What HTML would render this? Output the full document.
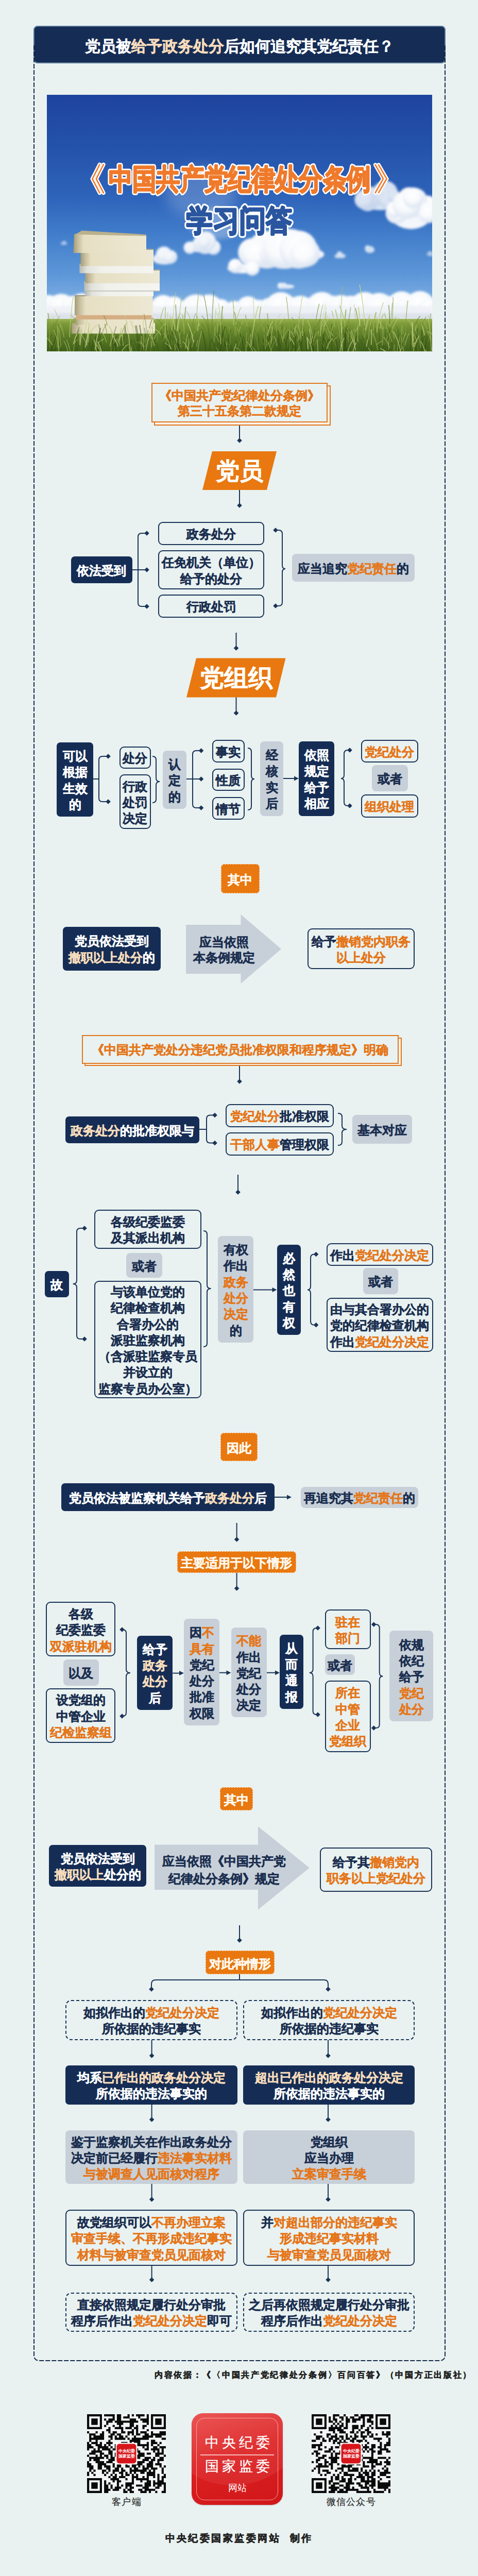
<!DOCTYPE html>
<html><head><meta charset="utf-8"><style>
*{margin:0;padding:0}
html,body{width:928px;height:5008px;overflow:hidden;background:#e9f2f1}
body{position:relative;font-family:"Liberation Sans",sans-serif;font-weight:bold;color:#1c2f50;-webkit-text-stroke:0.55px currentColor}
.b{position:absolute;display:flex;align-items:center;justify-content:center;text-align:center;box-sizing:border-box;font-size:24px;line-height:31.3px;white-space:nowrap}
.b>div{position:relative;top:1.5px}
.nv{background:#152d55;color:#fff;border-radius:7px}
.gr{background:#c7d0d8;color:#1c2f50;border-radius:8px}
.ol{border:2px solid #1b3457;border-radius:9px;color:#1c2f50}
.dl{border:2px dashed #1b3457;border-radius:11px;color:#1c2f50}
.tag{background:#e8780f;color:#fff8ee;border-radius:7px;outline:1.5px dashed #fbd3ac;outline-offset:-1.5px}
.tag>div{top:2.5px}
.o{color:#e5761a}
.p{color:#f6dcbc}
.hdr{position:absolute;left:65px;top:50px;width:800px;height:73px;box-sizing:border-box;background:#152d55;border:2px solid #5a7898;border-radius:8px;color:#fff;font-size:29.7px;line-height:76px;text-align:center}
.ob{border:2px solid #e0781e;background:#e9f2f1;color:#e5761a;line-height:30px;font-size:24px}
.ob2{position:absolute;border:2px solid #e0781e;background:#fbf3ea;box-sizing:border-box}
.big{position:absolute;display:flex;align-items:center;justify-content:center;color:#fff;font-size:46px;line-height:1}
svg.ov{position:absolute;left:0;top:0}
.ln{fill:none;stroke:#1b3457;stroke-width:2}
.src{position:absolute;left:300px;top:4598px;font-family:"Liberation Serif",serif;font-size:15.5px;letter-spacing:2.7px;line-height:24px;color:#222;white-space:nowrap}
.qr{position:absolute}
.qrl{position:absolute;top:4844px;text-align:center;font-size:17.5px;line-height:24px;color:#333;letter-spacing:1.3px;text-indent:1.3px;font-weight:normal;-webkit-text-stroke:0.3px currentColor}
.made{position:absolute;left:0;width:928px;top:4914px;text-align:center;font-size:19px;letter-spacing:3.45px;line-height:26px;color:#222}
.logo{-webkit-text-stroke:0;position:absolute;left:372px;top:4684px;width:177px;height:178px;border-radius:22px;background:linear-gradient(160deg,#e8403f 0%,#dc1f20 45%,#d0171a 100%);overflow:hidden;box-shadow:0 1px 2px rgba(0,0,0,.2)}
.gloss{position:absolute;left:-70px;top:-150px;width:300px;height:290px;border-radius:50%;background:linear-gradient(180deg,rgba(255,255,255,.16),rgba(255,255,255,.06))}
.lgin{position:absolute;left:9px;top:9px;right:9px;bottom:9px;border:1.5px solid rgba(255,200,200,.75);border-radius:16px}
.lgt1,.lgt2{-webkit-text-stroke:0.35px #fff;position:absolute;left:0;width:177px;text-align:center;font-family:"Liberation Serif",serif;font-weight:normal;color:#fff;font-size:27px;letter-spacing:6px;text-indent:6px;line-height:32px}
.lgt1{top:41px}
.lgt2{top:87px}
.lgline{position:absolute;left:17px;right:17px;top:80px;height:1.5px;background:rgba(255,220,220,.8)}
.lgt3{position:absolute;left:0;width:177px;top:133px;text-align:center;font-weight:normal;color:#fff;font-size:18px;line-height:24px}
</style></head>
<body>
<svg style="position:absolute;left:91px;top:184px" width="748" height="498" viewBox="0 0 748 498">
<defs>
<linearGradient id="sky" x1="0" y1="0" x2="0" y2="1">
<stop offset="0" stop-color="#1e449e"/>
<stop offset="0.2" stop-color="#2452aa"/>
<stop offset="0.4" stop-color="#2e64ba"/>
<stop offset="0.55" stop-color="#427ecb"/>
<stop offset="0.7" stop-color="#5d97d8"/>
<stop offset="0.8" stop-color="#7aace2"/>
</linearGradient>
<linearGradient id="grass" x1="0" y1="0" x2="0" y2="1">
<stop offset="0" stop-color="#9cb254"/>
<stop offset="0.15" stop-color="#7c9a38"/>
<stop offset="0.5" stop-color="#5d7d28"/>
<stop offset="1" stop-color="#40601a"/>
</linearGradient>
<filter id="blur6" x="-20%" y="-20%" width="140%" height="140%"><feGaussianBlur stdDeviation="5"/></filter>
<filter id="blur2" x="-20%" y="-20%" width="140%" height="140%"><feGaussianBlur stdDeviation="1.6"/></filter>
<filter id="cb" x="-30%" y="-30%" width="160%" height="160%"><feGaussianBlur stdDeviation="2.2"/></filter>
<filter id="cb2" x="-30%" y="-30%" width="160%" height="160%"><feGaussianBlur stdDeviation="4"/></filter>
<radialGradient id="puff" cx="0.45" cy="0.35" r="0.6"><stop offset="0" stop-color="#ffffff"/><stop offset="0.6" stop-color="#f7f9fc"/><stop offset="1" stop-color="#dfe7f3"/></radialGradient>
<filter id="blur12" x="-30%" y="-30%" width="160%" height="160%"><feGaussianBlur stdDeviation="12"/></filter>
<linearGradient id="tOr" x1="0" y1="0" x2="0" y2="1">
<stop offset="0" stop-color="#f7903f"/>
<stop offset="1" stop-color="#eb6a1a"/>
</linearGradient>
<linearGradient id="tBl" x1="0" y1="0" x2="0" y2="1">
<stop offset="0" stop-color="#3563b3"/>
<stop offset="1" stop-color="#1f448c"/>
</linearGradient>
<linearGradient id="pg" x1="0" y1="0" x2="1" y2="0">
<stop offset="0" stop-color="#a59c78"/>
<stop offset="0.07" stop-color="#c9c1a0"/>
<stop offset="0.14" stop-color="#e6dfc3"/>
<stop offset="1" stop-color="#ede8d3"/>
</linearGradient>
<linearGradient id="wp" x1="0" y1="0" x2="1" y2="0">
<stop offset="0" stop-color="#b9b9b2"/>
<stop offset="0.1" stop-color="#e2e2dc"/>
<stop offset="0.3" stop-color="#f1f1ec"/>
<stop offset="1" stop-color="#f4f4f0"/>
</linearGradient>
</defs>
<rect width="748" height="498" fill="url(#sky)"/>
<ellipse cx="300" cy="190" rx="70" ry="50" fill="#c8d8f0" opacity="0.25" filter="url(#blur12)"/><ellipse cx="330" cy="250" rx="55" ry="30" fill="#dfe8f6" opacity="0.35" filter="url(#blur6)"/><g filter="url(#cb)" opacity="0.85"><ellipse cx="647.0" cy="205.3" rx="39.6" ry="18.6" fill="#f3f6fb"/><circle cx="623.1" cy="204.8" r="21.1" fill="url(#puff)"/><circle cx="631.0" cy="198.0" r="19.6" fill="url(#puff)"/><circle cx="656.9" cy="191.4" r="24.6" fill="url(#puff)"/><circle cx="616.2" cy="203.2" r="18.9" fill="url(#puff)"/><circle cx="664.1" cy="198.4" r="14.0" fill="url(#puff)"/><circle cx="661.5" cy="203.6" r="17.0" fill="url(#puff)"/><circle cx="673.2" cy="196.5" r="12.6" fill="url(#puff)"/></g><g filter="url(#cb)" opacity="1.0"><ellipse cx="707.0" cy="228.9" rx="41.4" ry="31.8" fill="#f3f6fb"/><circle cx="738.2" cy="216.7" r="21.2" fill="url(#puff)"/><circle cx="678.6" cy="229.4" r="21.0" fill="url(#puff)"/><circle cx="718.6" cy="216.8" r="19.5" fill="url(#puff)"/><circle cx="714.3" cy="204.8" r="24.0" fill="url(#puff)"/><circle cx="702.3" cy="215.2" r="22.2" fill="url(#puff)"/><circle cx="740.8" cy="228.6" r="20.4" fill="url(#puff)"/><circle cx="703.2" cy="200.1" r="20.7" fill="url(#puff)"/><circle cx="674.7" cy="222.9" r="16.3" fill="url(#puff)"/><circle cx="698.8" cy="213.1" r="27.7" fill="url(#puff)"/><circle cx="711.1" cy="200.0" r="20.2" fill="url(#puff)"/></g><g filter="url(#cb)" opacity="1.0"><ellipse cx="461.0" cy="309.7" rx="77.3" ry="17.4" fill="#f3f6fb"/><circle cx="427.5" cy="302.4" r="29.4" fill="url(#puff)"/><circle cx="474.3" cy="295.4" r="34.9" fill="url(#puff)"/><circle cx="398.8" cy="306.0" r="27.7" fill="url(#puff)"/><circle cx="427.1" cy="300.7" r="36.6" fill="url(#puff)"/><circle cx="504.0" cy="307.1" r="26.6" fill="url(#puff)"/><circle cx="416.4" cy="307.1" r="28.6" fill="url(#puff)"/><circle cx="464.0" cy="298.6" r="39.2" fill="url(#puff)"/><circle cx="405.3" cy="307.5" r="28.1" fill="url(#puff)"/><circle cx="435.6" cy="306.7" r="22.3" fill="url(#puff)"/><circle cx="457.5" cy="299.1" r="38.6" fill="url(#puff)"/><circle cx="488.3" cy="300.4" r="36.9" fill="url(#puff)"/><circle cx="499.4" cy="308.5" r="26.9" fill="url(#puff)"/></g><g filter="url(#cb)" opacity="1.0"><ellipse cx="379.0" cy="336.8" rx="28.5" ry="9.6" fill="#f3f6fb"/><circle cx="366.6" cy="332.9" r="10.8" fill="url(#puff)"/><circle cx="362.7" cy="334.0" r="9.8" fill="url(#puff)"/><circle cx="398.7" cy="336.7" r="14.2" fill="url(#puff)"/><circle cx="365.9" cy="332.4" r="14.1" fill="url(#puff)"/><circle cx="363.6" cy="332.6" r="10.3" fill="url(#puff)"/></g><g filter="url(#cb)" opacity="0.95"><ellipse cx="301.0" cy="294.0" rx="30.4" ry="12.0" fill="#f3f6fb"/><circle cx="307.2" cy="290.2" r="18.9" fill="url(#puff)"/><circle cx="323.2" cy="296.1" r="14.3" fill="url(#puff)"/><circle cx="277.4" cy="296.7" r="12.0" fill="url(#puff)"/><circle cx="308.5" cy="285.2" r="19.9" fill="url(#puff)"/><circle cx="299.4" cy="286.8" r="15.2" fill="url(#puff)"/><circle cx="304.7" cy="284.9" r="12.5" fill="url(#puff)"/></g><g filter="url(#cb)" opacity="0.95"><ellipse cx="228.5" cy="318.1" rx="23.5" ry="11.1" fill="#f3f6fb"/><circle cx="239.9" cy="314.7" r="13.2" fill="url(#puff)"/><circle cx="219.3" cy="315.2" r="8.4" fill="url(#puff)"/><circle cx="227.3" cy="310.1" r="15.7" fill="url(#puff)"/><circle cx="239.0" cy="316.7" r="10.0" fill="url(#puff)"/><circle cx="237.4" cy="314.2" r="11.2" fill="url(#puff)"/></g><g filter="url(#cb)" opacity="0.9"><ellipse cx="465.0" cy="372.1" rx="15.6" ry="4.2" fill="#f3f6fb"/><circle cx="460.4" cy="370.7" r="6.0" fill="url(#puff)"/><circle cx="454.0" cy="371.2" r="6.1" fill="url(#puff)"/><circle cx="453.6" cy="370.4" r="5.9" fill="url(#puff)"/></g><g filter="url(#cb)" opacity="0.8"><ellipse cx="627.0" cy="301.0" rx="9.2" ry="6.0" fill="#f3f6fb"/><circle cx="622.8" cy="297.6" r="5.6" fill="url(#puff)"/><circle cx="630.1" cy="297.5" r="3.6" fill="url(#puff)"/></g><g filter="url(#cb)" opacity="0.8"><ellipse cx="569.0" cy="313.4" rx="11.0" ry="3.9" fill="#f3f6fb"/><circle cx="568.3" cy="310.1" r="6.0" fill="url(#puff)"/><circle cx="575.7" cy="312.7" r="3.6" fill="url(#puff)"/></g><g filter="url(#cb)" opacity="0.6"><ellipse cx="33.0" cy="288.5" rx="6.4" ry="3.0" fill="#f3f6fb"/><circle cx="33.8" cy="286.9" r="3.5" fill="url(#puff)"/></g><g filter="url(#cb)" opacity="0.6"><ellipse cx="744.5" cy="309.1" rx="6.9" ry="4.2" fill="#f3f6fb"/><circle cx="744.0" cy="307.7" r="4.1" fill="url(#puff)"/></g><g filter="url(#cb)"><circle cx="-20.0" cy="416.9" r="18.6" fill="url(#puff)"/><circle cx="2.9" cy="412.2" r="23.7" fill="url(#puff)"/><circle cx="28.0" cy="415.1" r="28.9" fill="url(#puff)"/><circle cx="49.1" cy="410.0" r="19.8" fill="url(#puff)"/><circle cx="68.3" cy="410.7" r="25.4" fill="url(#puff)"/><circle cx="93.4" cy="412.3" r="19.7" fill="url(#puff)"/><circle cx="108.0" cy="417.4" r="32.0" fill="url(#puff)"/><circle cx="134.2" cy="410.3" r="25.9" fill="url(#puff)"/><circle cx="152.8" cy="411.2" r="24.0" fill="url(#puff)"/><circle cx="180.1" cy="411.5" r="21.9" fill="url(#puff)"/><circle cx="205.6" cy="419.3" r="18.0" fill="url(#puff)"/><circle cx="225.9" cy="413.4" r="24.8" fill="url(#puff)"/><circle cx="246.7" cy="410.4" r="19.0" fill="url(#puff)"/><circle cx="272.8" cy="417.8" r="19.8" fill="url(#puff)"/><circle cx="289.8" cy="418.9" r="31.5" fill="url(#puff)"/><circle cx="314.3" cy="415.8" r="28.2" fill="url(#puff)"/><circle cx="338.5" cy="414.8" r="18.0" fill="url(#puff)"/><circle cx="364.1" cy="419.2" r="19.2" fill="url(#puff)"/><circle cx="390.5" cy="413.7" r="22.6" fill="url(#puff)"/><circle cx="410.9" cy="419.9" r="22.2" fill="url(#puff)"/><circle cx="430.3" cy="410.9" r="16.4" fill="url(#puff)"/><circle cx="454.3" cy="415.0" r="31.9" fill="url(#puff)"/><circle cx="475.2" cy="417.5" r="24.8" fill="url(#puff)"/><circle cx="492.3" cy="415.6" r="25.7" fill="url(#puff)"/><circle cx="515.0" cy="411.7" r="18.9" fill="url(#puff)"/><circle cx="533.9" cy="413.5" r="30.8" fill="url(#puff)"/><circle cx="556.3" cy="411.0" r="20.9" fill="url(#puff)"/><circle cx="571.2" cy="417.8" r="29.0" fill="url(#puff)"/><circle cx="590.4" cy="416.8" r="26.9" fill="url(#puff)"/><circle cx="617.0" cy="414.1" r="31.3" fill="url(#puff)"/><circle cx="644.9" cy="415.9" r="31.4" fill="url(#puff)"/><circle cx="671.2" cy="413.8" r="23.9" fill="url(#puff)"/><circle cx="688.7" cy="411.6" r="30.0" fill="url(#puff)"/><circle cx="703.7" cy="417.7" r="28.9" fill="url(#puff)"/><circle cx="724.4" cy="410.5" r="29.4" fill="url(#puff)"/><circle cx="742.0" cy="414.2" r="20.6" fill="url(#puff)"/><circle cx="758.4" cy="413.4" r="17.1" fill="url(#puff)"/><rect x="0" y="410" width="748" height="28" fill="#eef2f7"/><rect x="0" y="424" width="748" height="14" fill="#d5dce6" opacity="0.7"/></g>
<!-- grass -->
<rect x="0" y="435" width="748" height="63" fill="url(#grass)"/>
<!-- books (bottom to top) -->
<g>
<path d="M48,443 L210,443 L210,463.5 L48,463.5 Z" fill="url(#pg)"/>
<path d="M54,432.6 L207,432.6 L207,446 L54,446 Z" fill="url(#pg)"/>
<path d="M56.5,425.7 L203.5,425.7 L203.5,436 L56.5,436 Z" fill="#d6ae84"/>
<path d="M54,389 L205.5,389 L205.5,427.7 L54,427.7 Z" fill="url(#pg)"/>
<path d="M54,389 L205.5,389 L205.5,391 L54,391 Z" fill="#9a9274"/>
<path d="M74.5,379.4 L207,379.4 L207,391 L74.5,391 Z" fill="url(#wp)"/>
<path d="M72.4,362 L219,362 L219,381 L72.4,381 Z" fill="url(#wp)"/>
<path d="M72.4,380 L219,380 L219,381.5 L72.4,381.5 Z" fill="#bbbbb0"/>
<path d="M74.5,339.4 L219,339.4 L219,365.7 L74.5,365.7 Z" fill="url(#pg)"/>
<path d="M74.5,339.4 L219,339.4 L219,341 L74.5,341 Z" fill="#a29a7a"/>
<path d="M63.4,327.7 L207,327.7 L207,346.3 L63.4,346.3 Z" fill="url(#wp)"/>
<path d="M65.5,299.4 L207,299.4 L207,332.6 L65.5,332.6 Z" fill="url(#pg)"/>
<path d="M65.5,299.4 L207,299.4 L207,301 L65.5,301 Z" fill="#a29a7a"/>
<path d="M53,270 L193,272 L193,307 L51.7,307 Z" fill="url(#pg)"/>
<path d="M68,263.6 L191,271 L193,274 L55,271 Z" fill="#b9b08c"/>
</g>
<g fill="none"><path d="M101.3,500 Q102.0,481.0 103.6,468.4" stroke="#2f4a12" stroke-width="1.38" opacity="0.57"/><path d="M309.1,500 Q306.5,473.1 300.5,455.2" stroke="#2f4a12" stroke-width="2.08" opacity="0.59"/><path d="M726.5,500 Q728.5,480.8 733.1,468.1" stroke="#2f4a12" stroke-width="2.18" opacity="0.33"/><path d="M51.2,500 Q54.1,474.0 61.0,456.7" stroke="#2f4a12" stroke-width="1.04" opacity="0.55"/><path d="M495.4,500 Q493.3,478.0 488.3,463.4" stroke="#2f4a12" stroke-width="1.61" opacity="0.45"/><path d="M147.7,500 Q149.1,469.1 152.5,448.5" stroke="#2f4a12" stroke-width="1.20" opacity="0.49"/><path d="M448.4,500 Q451.2,468.3 458.0,447.2" stroke="#2f4a12" stroke-width="2.07" opacity="0.32"/><path d="M314.2,500 Q315.8,484.8 319.3,474.6" stroke="#2f4a12" stroke-width="1.10" opacity="0.55"/><path d="M461.8,500 Q464.4,474.5 470.7,457.5" stroke="#2f4a12" stroke-width="2.04" opacity="0.52"/><path d="M470.9,500 Q471.0,476.5 471.3,460.9" stroke="#2f4a12" stroke-width="1.03" opacity="0.36"/><path d="M517.1,500 Q516.8,479.3 516.1,465.5" stroke="#2f4a12" stroke-width="2.02" opacity="0.42"/><path d="M546.8,500 Q548.8,471.1 553.5,451.9" stroke="#2f4a12" stroke-width="1.28" opacity="0.48"/><path d="M349.0,500 Q346.5,475.7 340.7,459.5" stroke="#2f4a12" stroke-width="1.23" opacity="0.37"/><path d="M589.4,500 Q588.7,471.6 587.1,452.6" stroke="#2f4a12" stroke-width="1.73" opacity="0.43"/><path d="M402.3,500 Q401.3,482.4 399.1,470.7" stroke="#2f4a12" stroke-width="2.15" opacity="0.57"/><path d="M86.9,500 Q89.1,485.5 94.2,475.8" stroke="#2f4a12" stroke-width="1.53" opacity="0.49"/><path d="M452.2,500 Q454.6,475.3 460.3,458.8" stroke="#2f4a12" stroke-width="1.18" opacity="0.56"/><path d="M192.1,500 Q190.8,486.4 188.0,477.3" stroke="#2f4a12" stroke-width="1.62" opacity="0.54"/><path d="M434.8,500 Q432.9,467.6 428.6,446.0" stroke="#2f4a12" stroke-width="1.46" opacity="0.47"/><path d="M442.8,500 Q442.9,473.4 443.0,455.6" stroke="#2f4a12" stroke-width="1.12" opacity="0.53"/><path d="M597.2,500 Q599.0,486.5 603.4,477.5" stroke="#2f4a12" stroke-width="1.01" opacity="0.51"/><path d="M466.9,500 Q464.4,481.8 458.7,469.6" stroke="#2f4a12" stroke-width="1.31" opacity="0.49"/><path d="M399.6,500 Q397.6,470.9 393.0,451.5" stroke="#2f4a12" stroke-width="1.74" opacity="0.39"/><path d="M27.3,500 Q25.0,484.1 19.6,473.4" stroke="#2f4a12" stroke-width="1.19" opacity="0.31"/><path d="M734.7,500 Q736.2,480.4 739.8,467.4" stroke="#2f4a12" stroke-width="1.51" opacity="0.45"/><path d="M185.8,500 Q184.0,468.2 180.0,446.9" stroke="#2f4a12" stroke-width="2.15" opacity="0.53"/><path d="M649.8,500 Q652.7,486.0 659.5,476.6" stroke="#2f4a12" stroke-width="1.78" opacity="0.47"/><path d="M425.0,500 Q427.7,478.6 434.1,464.4" stroke="#2f4a12" stroke-width="2.18" opacity="0.59"/><path d="M102.2,500 Q103.4,476.9 106.2,461.5" stroke="#2f4a12" stroke-width="1.22" opacity="0.57"/><path d="M565.2,500 Q564.0,485.5 561.1,475.8" stroke="#2f4a12" stroke-width="1.82" opacity="0.56"/><path d="M751.6,500 Q753.6,482.2 758.3,470.3" stroke="#2f4a12" stroke-width="1.70" opacity="0.41"/><path d="M177.1,500 Q174.3,485.8 167.8,476.3" stroke="#2f4a12" stroke-width="1.52" opacity="0.34"/><path d="M149.5,500 Q147.3,481.2 142.2,468.7" stroke="#2f4a12" stroke-width="1.24" opacity="0.38"/><path d="M734.4,500 Q735.1,479.1 736.7,465.2" stroke="#2f4a12" stroke-width="1.65" opacity="0.59"/><path d="M621.1,500 Q623.4,468.5 628.6,447.6" stroke="#2f4a12" stroke-width="1.89" opacity="0.56"/><path d="M246.8,500 Q245.8,475.2 243.4,458.7" stroke="#2f4a12" stroke-width="2.11" opacity="0.38"/><path d="M752.8,500 Q751.8,483.0 749.6,471.7" stroke="#2f4a12" stroke-width="1.89" opacity="0.47"/><path d="M157.6,500 Q159.9,485.3 165.2,475.6" stroke="#2f4a12" stroke-width="1.25" opacity="0.45"/><path d="M629.7,500 Q629.5,477.8 629.2,463.0" stroke="#2f4a12" stroke-width="1.20" opacity="0.58"/><path d="M451.0,500 Q450.4,474.0 448.9,456.6" stroke="#2f4a12" stroke-width="1.85" opacity="0.41"/><path d="M130.4,500 Q132.0,480.5 135.7,467.5" stroke="#2f4a12" stroke-width="2.04" opacity="0.45"/><path d="M495.0,500 Q495.9,468.4 498.0,447.3" stroke="#2f4a12" stroke-width="2.17" opacity="0.38"/><path d="M656.3,500 Q656.7,472.2 657.7,453.7" stroke="#2f4a12" stroke-width="1.71" opacity="0.35"/><path d="M7.7,500 Q10.1,487.3 15.5,478.9" stroke="#2f4a12" stroke-width="1.48" opacity="0.48"/><path d="M330.5,500 Q331.9,469.5 335.2,449.2" stroke="#2f4a12" stroke-width="1.45" opacity="0.49"/><path d="M157.4,500 Q155.4,468.2 150.6,447.0" stroke="#2f4a12" stroke-width="2.09" opacity="0.46"/><path d="M106.8,500 Q105.0,467.3 100.8,445.6" stroke="#2f4a12" stroke-width="1.81" opacity="0.38"/><path d="M96.5,500 Q98.8,471.4 104.3,452.3" stroke="#2f4a12" stroke-width="2.07" opacity="0.50"/><path d="M482.0,500 Q485.0,484.7 491.9,474.5" stroke="#2f4a12" stroke-width="1.39" opacity="0.49"/><path d="M14.4,500 Q14.5,481.4 14.8,468.9" stroke="#2f4a12" stroke-width="1.57" opacity="0.42"/><path d="M285.1,500 Q286.0,487.6 288.0,479.3" stroke="#2f4a12" stroke-width="1.43" opacity="0.33"/><path d="M274.2,500 Q275.7,473.9 279.1,456.6" stroke="#2f4a12" stroke-width="1.50" opacity="0.33"/><path d="M469.5,500 Q469.4,475.4 469.2,459.0" stroke="#2f4a12" stroke-width="2.16" opacity="0.41"/><path d="M391.2,500 Q389.0,487.4 383.9,478.9" stroke="#2f4a12" stroke-width="1.23" opacity="0.36"/><path d="M127.3,500 Q129.8,485.7 135.7,476.2" stroke="#2f4a12" stroke-width="1.70" opacity="0.45"/><path d="M420.9,500 Q423.1,482.1 428.2,470.1" stroke="#2f4a12" stroke-width="1.88" opacity="0.43"/><path d="M11.7,500 Q8.9,488.0 2.4,480.0" stroke="#2f4a12" stroke-width="1.87" opacity="0.31"/><path d="M335.8,500 Q335.0,477.1 333.2,461.9" stroke="#2f4a12" stroke-width="1.36" opacity="0.58"/><path d="M718.3,500 Q718.6,472.1 719.1,453.6" stroke="#2f4a12" stroke-width="2.14" opacity="0.51"/><path d="M170.2,500 Q168.0,485.1 163.1,475.1" stroke="#2f4a12" stroke-width="1.12" opacity="0.42"/><path d="M455.7,500 Q453.2,483.6 447.3,472.7" stroke="#2f4a12" stroke-width="1.40" opacity="0.44"/><path d="M661.7,500 Q663.6,469.3 668.1,448.8" stroke="#2f4a12" stroke-width="1.31" opacity="0.55"/><path d="M207.9,500 Q208.1,475.7 208.5,459.5" stroke="#2f4a12" stroke-width="1.28" opacity="0.46"/><path d="M194.5,500 Q192.9,471.3 189.2,452.1" stroke="#2f4a12" stroke-width="1.94" opacity="0.36"/><path d="M1.6,500 Q3.9,478.8 9.2,464.6" stroke="#2f4a12" stroke-width="1.76" opacity="0.38"/><path d="M378.3,500 Q379.3,481.0 381.6,468.4" stroke="#2f4a12" stroke-width="1.35" opacity="0.35"/><path d="M752.3,500 Q750.1,487.2 745.0,478.6" stroke="#2f4a12" stroke-width="1.38" opacity="0.40"/><path d="M414.9,500 Q412.8,477.6 408.0,462.7" stroke="#2f4a12" stroke-width="2.00" opacity="0.51"/><path d="M133.3,500 Q131.0,484.4 125.6,474.1" stroke="#2f4a12" stroke-width="1.61" opacity="0.49"/><path d="M540.7,500 Q542.8,483.0 548.0,471.7" stroke="#2f4a12" stroke-width="2.08" opacity="0.44"/><path d="M85.9,500 Q87.2,484.3 90.2,473.9" stroke="#2f4a12" stroke-width="1.08" opacity="0.49"/><path d="M538.0,500 Q535.9,487.6 531.0,479.3" stroke="#2f4a12" stroke-width="1.29" opacity="0.43"/><path d="M639.7,500 Q639.0,471.2 637.4,452.0" stroke="#2f4a12" stroke-width="1.01" opacity="0.46"/><path d="M142.9,500 Q145.5,481.9 151.6,469.9" stroke="#2f4a12" stroke-width="1.35" opacity="0.42"/><path d="M504.6,500 Q501.9,468.4 495.8,447.4" stroke="#2f4a12" stroke-width="1.71" opacity="0.50"/><path d="M90.6,500 Q89.6,485.9 87.3,476.4" stroke="#2f4a12" stroke-width="1.41" opacity="0.51"/><path d="M729.2,500 Q728.7,474.1 727.8,456.8" stroke="#2f4a12" stroke-width="2.20" opacity="0.58"/><path d="M328.5,500 Q328.6,478.1 328.8,463.5" stroke="#2f4a12" stroke-width="1.13" opacity="0.49"/><path d="M535.0,500 Q535.6,478.0 536.7,463.4" stroke="#2f4a12" stroke-width="2.09" opacity="0.49"/><path d="M517.2,500 Q518.6,469.5 521.9,449.1" stroke="#2f4a12" stroke-width="1.55" opacity="0.59"/><path d="M712.3,500 Q715.3,486.3 722.3,477.2" stroke="#2f4a12" stroke-width="1.20" opacity="0.56"/><path d="M481.8,500 Q480.9,471.6 478.7,452.7" stroke="#2f4a12" stroke-width="1.34" opacity="0.35"/><path d="M87.1,500 Q85.1,485.6 80.5,476.0" stroke="#2f4a12" stroke-width="1.98" opacity="0.46"/><path d="M645.8,500 Q645.4,467.3 644.6,445.5" stroke="#2f4a12" stroke-width="1.21" opacity="0.57"/><path d="M80.6,500 Q82.7,477.2 87.5,462.0" stroke="#2f4a12" stroke-width="1.15" opacity="0.38"/><path d="M488.8,500 Q491.0,486.0 496.1,476.6" stroke="#2f4a12" stroke-width="1.90" opacity="0.47"/><path d="M584.4,500 Q586.5,485.1 591.3,475.1" stroke="#2f4a12" stroke-width="1.65" opacity="0.42"/><path d="M612.1,500 Q609.4,478.4 603.0,464.0" stroke="#2f4a12" stroke-width="1.84" opacity="0.31"/><path d="M421.5,500 Q421.0,483.4 419.7,472.4" stroke="#2f4a12" stroke-width="1.50" opacity="0.51"/><path d="M478.4,500 Q476.8,480.6 473.0,467.7" stroke="#2f4a12" stroke-width="1.93" opacity="0.32"/><path d="M437.4,500 Q438.2,472.7 440.0,454.6" stroke="#2f4a12" stroke-width="1.03" opacity="0.32"/><path d="M481.9,500 Q482.7,471.5 484.6,452.5" stroke="#2f4a12" stroke-width="2.18" opacity="0.51"/><path d="M317.9,500 Q316.4,467.9 312.7,446.5" stroke="#2f4a12" stroke-width="1.13" opacity="0.42"/><path d="M16.2,500 Q16.4,476.1 16.9,460.1" stroke="#2f4a12" stroke-width="1.23" opacity="0.48"/><path d="M350.8,500 Q352.5,473.3 356.6,455.5" stroke="#2f4a12" stroke-width="1.96" opacity="0.51"/><path d="M70.5,500 Q71.5,475.9 73.8,459.9" stroke="#2f4a12" stroke-width="1.23" opacity="0.41"/><path d="M390.0,500 Q387.5,482.3 381.6,470.5" stroke="#2f4a12" stroke-width="1.34" opacity="0.42"/><path d="M581.2,500 Q583.3,467.3 588.1,445.5" stroke="#2f4a12" stroke-width="2.07" opacity="0.59"/><path d="M383.1,500 Q380.3,475.0 373.7,458.3" stroke="#2f4a12" stroke-width="1.86" opacity="0.55"/><path d="M257.0,500 Q254.6,475.2 248.9,458.7" stroke="#2f4a12" stroke-width="2.12" opacity="0.43"/><path d="M342.5,500 Q344.7,483.3 349.9,472.2" stroke="#2f4a12" stroke-width="2.14" opacity="0.42"/><path d="M391.5,500 Q392.7,482.0 395.5,470.0" stroke="#2f4a12" stroke-width="1.74" opacity="0.55"/><path d="M8.4,500 Q11.2,477.4 17.8,462.4" stroke="#2f4a12" stroke-width="1.03" opacity="0.49"/><path d="M280.1,500 Q278.9,485.6 276.1,475.9" stroke="#2f4a12" stroke-width="2.16" opacity="0.36"/><path d="M354.8,500 Q352.5,469.8 347.0,449.7" stroke="#2f4a12" stroke-width="1.03" opacity="0.48"/><path d="M467.7,500 Q469.7,487.2 474.4,478.7" stroke="#2f4a12" stroke-width="1.92" opacity="0.48"/><path d="M179.2,500 Q177.5,468.6 173.6,447.7" stroke="#2f4a12" stroke-width="2.20" opacity="0.47"/><path d="M683.9,500 Q684.6,476.5 686.0,460.9" stroke="#2f4a12" stroke-width="2.13" opacity="0.43"/><path d="M232.4,500 Q235.3,467.7 242.3,446.1" stroke="#2f4a12" stroke-width="1.15" opacity="0.56"/><path d="M571.8,500 Q570.2,483.6 566.5,472.6" stroke="#2f4a12" stroke-width="1.07" opacity="0.55"/><path d="M56.4,500 Q58.2,470.4 62.4,450.7" stroke="#2f4a12" stroke-width="2.18" opacity="0.33"/><path d="M609.3,500 Q606.9,486.3 601.5,477.1" stroke="#2f4a12" stroke-width="2.02" opacity="0.34"/><path d="M553.4,500 Q553.3,467.3 553.0,445.5" stroke="#2f4a12" stroke-width="1.51" opacity="0.57"/><path d="M477.6,500 Q478.7,467.3 481.4,445.5" stroke="#2f4a12" stroke-width="1.54" opacity="0.31"/><path d="M671.6,500 Q669.4,472.2 664.3,453.6" stroke="#2f4a12" stroke-width="1.83" opacity="0.38"/><path d="M328.4,500 Q325.9,484.7 320.0,474.5" stroke="#2f4a12" stroke-width="1.56" opacity="0.51"/><path d="M533.9,500 Q536.4,470.1 542.1,450.2" stroke="#2f4a12" stroke-width="1.89" opacity="0.37"/><path d="M582.3,500 Q580.0,472.6 574.6,454.3" stroke="#2f4a12" stroke-width="1.02" opacity="0.57"/><path d="M125.4,500 Q128.1,469.7 134.4,449.5" stroke="#2f4a12" stroke-width="1.50" opacity="0.46"/><path d="M50.3,500 Q52.4,486.4 57.3,477.3" stroke="#2f4a12" stroke-width="1.75" opacity="0.38"/><path d="M140.4,500 Q142.0,486.4 145.7,477.3" stroke="#2f4a12" stroke-width="1.33" opacity="0.32"/><path d="M619.1,500 Q617.1,481.4 612.5,469.0" stroke="#2f4a12" stroke-width="1.68" opacity="0.41"/><path d="M393.3,500 Q393.6,478.4 394.2,464.0" stroke="#2f4a12" stroke-width="1.32" opacity="0.45"/><path d="M719.7,500 Q719.2,483.6 718.1,472.6" stroke="#2f4a12" stroke-width="1.55" opacity="0.44"/><path d="M254.6,500 Q257.2,474.8 263.3,458.0" stroke="#2f4a12" stroke-width="1.18" opacity="0.43"/><path d="M737.9,500 Q739.0,488.0 741.7,480.0" stroke="#2f4a12" stroke-width="1.44" opacity="0.45"/><path d="M545.8,500 Q543.2,482.6 537.1,471.0" stroke="#2f4a12" stroke-width="1.77" opacity="0.60"/><path d="M339.9,500 Q340.0,468.4 340.2,447.3" stroke="#2f4a12" stroke-width="1.82" opacity="0.50"/><path d="M576.4,500 Q577.5,474.3 580.1,457.2" stroke="#2f4a12" stroke-width="1.85" opacity="0.38"/><path d="M664.2,500 Q664.2,475.2 664.2,458.7" stroke="#2f4a12" stroke-width="1.76" opacity="0.40"/><path d="M177.1,500 Q175.3,468.8 171.3,448.0" stroke="#2f4a12" stroke-width="1.43" opacity="0.48"/><path d="M371.3,500 Q369.9,486.1 366.7,476.8" stroke="#2f4a12" stroke-width="1.92" opacity="0.34"/><path d="M360.0,500 Q357.5,485.7 351.6,476.2" stroke="#2f4a12" stroke-width="2.17" opacity="0.43"/><path d="M349.5,500 Q347.5,486.5 342.7,477.4" stroke="#2f4a12" stroke-width="1.62" opacity="0.58"/><path d="M706.1,500 Q706.2,479.6 706.3,466.0" stroke="#2f4a12" stroke-width="1.27" opacity="0.55"/><path d="M99.9,500 Q98.0,481.6 93.7,469.3" stroke="#2f4a12" stroke-width="1.89" opacity="0.56"/><path d="M329.1,500 Q331.6,481.1 337.4,468.4" stroke="#2f4a12" stroke-width="1.12" opacity="0.53"/><path d="M236.1,500 Q234.6,468.9 231.2,448.2" stroke="#2f4a12" stroke-width="2.05" opacity="0.56"/><path d="M232.5,500 Q233.3,483.7 235.1,472.9" stroke="#2f4a12" stroke-width="1.09" opacity="0.47"/><path d="M228.8,500 Q226.4,474.0 220.9,456.6" stroke="#2f4a12" stroke-width="1.83" opacity="0.38"/><path d="M431.3,500 Q429.3,472.8 424.6,454.7" stroke="#2f4a12" stroke-width="1.39" opacity="0.51"/><path d="M517.2,500 Q514.4,469.3 507.8,448.8" stroke="#2f4a12" stroke-width="1.47" opacity="0.40"/><path d="M665.3,500 Q664.2,477.5 661.8,462.5" stroke="#2f4a12" stroke-width="1.19" opacity="0.43"/><path d="M252.1,500 Q252.9,487.6 254.7,479.3" stroke="#2f4a12" stroke-width="2.07" opacity="0.42"/><path d="M336.7,500 Q339.4,469.5 345.8,449.2" stroke="#2f4a12" stroke-width="2.15" opacity="0.52"/><path d="M134.0,500 Q133.1,480.4 130.8,467.3" stroke="#2f4a12" stroke-width="1.96" opacity="0.54"/><path d="M615.4,500 Q613.8,484.8 610.0,474.6" stroke="#2f4a12" stroke-width="2.19" opacity="0.40"/><path d="M445.5,500 Q446.8,479.0 449.9,465.0" stroke="#2f4a12" stroke-width="1.01" opacity="0.54"/><path d="M684.2,500 Q683.3,473.4 681.2,455.7" stroke="#2f4a12" stroke-width="1.83" opacity="0.36"/><path d="M578.6,500 Q579.2,471.2 580.5,452.0" stroke="#2f4a12" stroke-width="1.90" opacity="0.51"/><path d="M578.1,500 Q579.6,469.0 583.3,448.4" stroke="#2f4a12" stroke-width="2.09" opacity="0.51"/><path d="M58.3,500 Q60.8,483.8 66.5,473.0" stroke="#2f4a12" stroke-width="1.11" opacity="0.56"/><path d="M539.3,500 Q541.6,485.1 547.0,475.1" stroke="#2f4a12" stroke-width="1.86" opacity="0.36"/><path d="M255.4,500 Q256.1,473.7 257.9,456.2" stroke="#2f4a12" stroke-width="1.70" opacity="0.56"/><path d="M236.2,500 Q239.0,470.0 245.5,450.0" stroke="#2f4a12" stroke-width="2.02" opacity="0.43"/><path d="M180.7,500 Q180.1,477.5 178.6,462.5" stroke="#2f4a12" stroke-width="1.80" opacity="0.33"/><path d="M217.1,500 Q214.8,486.1 209.5,476.8" stroke="#2f4a12" stroke-width="1.37" opacity="0.46"/><path d="M594.7,500 Q597.0,480.1 602.4,466.9" stroke="#2f4a12" stroke-width="1.60" opacity="0.59"/><path d="M248.4,500 Q246.4,481.2 241.6,468.7" stroke="#2f4a12" stroke-width="1.95" opacity="0.48"/><path d="M714.7,500 Q716.3,477.6 720.0,462.6" stroke="#2f4a12" stroke-width="1.20" opacity="0.58"/><path d="M467.2,489.5 Q469.2,467.7 473.9,453.2" stroke="#62802a" stroke-width="0.83" opacity="0.71"/><path d="M710.1,483.9 Q709.8,457.2 709.2,439.4" stroke="#98b050" stroke-width="1.18" opacity="0.55"/><path d="M184.0,488.9 Q187.1,480.8 194.3,475.4" stroke="#86a040" stroke-width="0.96" opacity="0.86"/><path d="M100.2,482.0 Q103.3,477.2 110.6,474.0" stroke="#98b050" stroke-width="1.57" opacity="0.93"/><path d="M145.8,497.6 Q149.7,489.5 158.9,484.1" stroke="#98b050" stroke-width="1.77" opacity="0.90"/><path d="M221.5,466.7 Q217.8,459.2 209.3,454.3" stroke="#bccb7a" stroke-width="1.62" opacity="0.76"/><path d="M446.8,487.5 Q445.1,476.3 441.3,468.8" stroke="#c5d18c" stroke-width="1.12" opacity="0.72"/><path d="M529.1,448.4 Q531.2,423.9 536.1,407.5" stroke="#86a040" stroke-width="0.82" opacity="0.85"/><path d="M272.6,479.7 Q269.9,474.1 263.6,470.3" stroke="#98b050" stroke-width="0.92" opacity="0.61"/><path d="M616.2,472.7 Q614.1,451.9 609.2,438.0" stroke="#86a040" stroke-width="0.91" opacity="0.84"/><path d="M599.3,496.6 Q595.9,474.8 587.9,460.2" stroke="#bccb7a" stroke-width="1.31" opacity="0.66"/><path d="M64.8,486.2 Q65.9,467.0 68.3,454.2" stroke="#c5d18c" stroke-width="1.49" opacity="0.95"/><path d="M117.4,447.9 Q115.2,435.8 110.1,427.7" stroke="#62802a" stroke-width="1.14" opacity="0.61"/><path d="M488.4,453.7 Q491.0,414.4 496.9,388.2" stroke="#bccb7a" stroke-width="1.64" opacity="0.56"/><path d="M549.6,502.0 Q546.3,483.0 538.6,470.3" stroke="#86a040" stroke-width="1.17" opacity="0.53"/><path d="M313.8,453.5 Q311.1,414.6 304.6,388.7" stroke="#62802a" stroke-width="1.25" opacity="0.72"/><path d="M548.0,473.7 Q545.0,461.7 538.1,453.6" stroke="#86a040" stroke-width="1.62" opacity="0.74"/><path d="M131.0,501.2 Q130.9,493.2 130.8,487.8" stroke="#62802a" stroke-width="1.58" opacity="0.89"/><path d="M268.9,492.2 Q270.3,474.9 273.5,463.3" stroke="#bccb7a" stroke-width="1.16" opacity="0.82"/><path d="M207.9,474.1 Q211.6,464.1 220.4,457.3" stroke="#c5d18c" stroke-width="0.98" opacity="0.88"/><path d="M354.5,491.4 Q352.7,481.7 348.6,475.2" stroke="#62802a" stroke-width="1.45" opacity="0.86"/><path d="M258.7,483.6 Q257.4,463.9 254.5,450.8" stroke="#98b050" stroke-width="1.67" opacity="0.81"/><path d="M734.9,502.4 Q732.1,488.1 725.6,478.5" stroke="#bccb7a" stroke-width="1.74" opacity="0.71"/><path d="M519.1,488.2 Q521.5,480.3 527.0,475.0" stroke="#62802a" stroke-width="1.32" opacity="0.92"/><path d="M224.4,478.2 Q228.6,468.5 238.3,462.1" stroke="#98b050" stroke-width="0.96" opacity="0.70"/><path d="M487.8,458.1 Q483.9,442.0 475.0,431.2" stroke="#86a040" stroke-width="1.78" opacity="0.57"/><path d="M671.0,451.6 Q671.4,416.1 672.3,392.3" stroke="#86a040" stroke-width="1.27" opacity="0.67"/><path d="M458.7,480.4 Q454.5,459.4 444.8,445.3" stroke="#86a040" stroke-width="1.75" opacity="0.89"/><path d="M651.7,486.3 Q652.2,464.2 653.1,449.4" stroke="#bccb7a" stroke-width="0.89" opacity="0.75"/><path d="M252.2,479.9 Q251.6,436.2 250.0,407.1" stroke="#62802a" stroke-width="1.44" opacity="0.67"/><path d="M102.7,480.8 Q106.7,458.7 115.8,444.0" stroke="#62802a" stroke-width="0.89" opacity="0.87"/><path d="M496.5,467.9 Q496.9,446.6 497.6,432.4" stroke="#bccb7a" stroke-width="1.43" opacity="0.90"/><path d="M279.9,470.9 Q283.9,460.9 293.1,454.2" stroke="#86a040" stroke-width="1.18" opacity="0.88"/><path d="M115.5,480.6 Q113.5,470.4 108.6,463.6" stroke="#a9bd62" stroke-width="1.12" opacity="0.94"/><path d="M367.8,462.2 Q368.8,455.2 371.2,450.5" stroke="#86a040" stroke-width="1.05" opacity="0.52"/><path d="M419.7,459.6 Q419.6,454.1 419.4,450.5" stroke="#98b050" stroke-width="1.52" opacity="0.63"/><path d="M368.1,504.5 Q371.3,484.2 378.8,470.6" stroke="#a9bd62" stroke-width="0.82" opacity="0.56"/><path d="M209.0,487.5 Q205.0,469.5 195.8,457.5" stroke="#bccb7a" stroke-width="1.16" opacity="0.84"/><path d="M442.8,447.2 Q446.3,434.2 454.5,425.5" stroke="#c5d18c" stroke-width="1.35" opacity="0.51"/><path d="M585.0,470.7 Q586.1,453.1 588.7,441.4" stroke="#86a040" stroke-width="1.66" opacity="0.88"/><path d="M355.6,485.9 Q355.3,465.0 354.6,451.0" stroke="#a9bd62" stroke-width="1.10" opacity="0.50"/><path d="M585.5,479.9 Q583.9,466.6 580.2,457.8" stroke="#98b050" stroke-width="1.28" opacity="0.75"/><path d="M372.2,464.8 Q374.9,449.5 381.0,439.3" stroke="#a9bd62" stroke-width="1.53" opacity="0.62"/><path d="M59.6,448.8 Q56.0,436.2 47.5,427.9" stroke="#86a040" stroke-width="1.50" opacity="0.52"/><path d="M633.3,458.2 Q635.1,436.2 639.2,421.6" stroke="#98b050" stroke-width="1.79" opacity="0.82"/><path d="M327.0,456.0 Q323.3,436.7 314.9,423.9" stroke="#98b050" stroke-width="0.84" opacity="0.55"/><path d="M282.4,449.3 Q284.5,434.2 289.2,424.1" stroke="#62802a" stroke-width="0.93" opacity="0.69"/><path d="M233.4,481.0 Q232.4,459.3 229.9,444.9" stroke="#a9bd62" stroke-width="0.94" opacity="0.63"/><path d="M426.0,485.7 Q426.5,463.9 427.4,449.4" stroke="#98b050" stroke-width="1.06" opacity="0.75"/><path d="M187.7,490.0 Q185.4,482.8 180.2,478.0" stroke="#bccb7a" stroke-width="1.25" opacity="0.68"/><path d="M429.5,447.2 Q429.1,433.2 428.2,424.0" stroke="#86a040" stroke-width="1.68" opacity="0.72"/><path d="M240.1,492.8 Q236.3,474.9 227.6,463.0" stroke="#98b050" stroke-width="1.74" opacity="0.69"/><path d="M597.2,490.0 Q597.1,468.8 596.9,454.6" stroke="#98b050" stroke-width="0.94" opacity="0.78"/><path d="M263.6,459.1 Q262.3,443.3 259.3,432.7" stroke="#86a040" stroke-width="1.18" opacity="0.83"/><path d="M266.6,462.8 Q265.4,440.7 262.7,425.9" stroke="#a9bd62" stroke-width="1.39" opacity="0.76"/><path d="M556.0,468.7 Q553.5,463.3 547.7,459.7" stroke="#a9bd62" stroke-width="1.29" opacity="0.92"/><path d="M496.2,465.9 Q499.9,455.7 508.4,448.9" stroke="#86a040" stroke-width="1.12" opacity="0.71"/><path d="M140.2,484.2 Q143.3,463.8 150.6,450.1" stroke="#86a040" stroke-width="0.95" opacity="0.61"/><path d="M695.8,467.1 Q697.2,426.6 700.7,399.6" stroke="#86a040" stroke-width="1.65" opacity="0.57"/><path d="M590.3,464.5 Q594.4,455.3 604.1,449.3" stroke="#a9bd62" stroke-width="1.00" opacity="0.51"/><path d="M733.0,466.9 Q731.2,453.6 726.9,444.8" stroke="#c5d18c" stroke-width="1.79" opacity="0.71"/><path d="M583.1,455.5 Q584.0,449.9 586.1,446.2" stroke="#c5d18c" stroke-width="1.78" opacity="0.50"/><path d="M41.1,491.8 Q41.5,486.1 42.5,482.4" stroke="#62802a" stroke-width="1.37" opacity="0.92"/><path d="M538.1,459.2 Q537.9,452.8 537.3,448.5" stroke="#c5d18c" stroke-width="1.04" opacity="0.52"/><path d="M296.2,448.6 Q294.5,436.5 290.7,428.4" stroke="#a9bd62" stroke-width="1.68" opacity="0.93"/><path d="M142.4,486.7 Q140.2,478.6 135.0,473.1" stroke="#bccb7a" stroke-width="1.59" opacity="0.54"/><path d="M741.8,454.7 Q742.8,436.8 745.3,424.8" stroke="#86a040" stroke-width="1.34" opacity="0.72"/><path d="M428.1,467.6 Q431.6,449.7 439.7,437.8" stroke="#bccb7a" stroke-width="1.49" opacity="0.90"/><path d="M752.8,478.3 Q755.1,464.8 760.6,455.8" stroke="#bccb7a" stroke-width="1.62" opacity="0.64"/><path d="M31.4,457.0 Q28.0,445.5 20.2,437.8" stroke="#86a040" stroke-width="1.57" opacity="0.67"/><path d="M578.1,445.0 Q575.0,423.3 567.8,408.8" stroke="#a9bd62" stroke-width="1.24" opacity="0.87"/><path d="M491.8,502.3 Q489.9,484.9 485.3,473.3" stroke="#86a040" stroke-width="1.36" opacity="0.64"/><path d="M227.3,453.2 Q223.4,442.6 214.2,435.5" stroke="#62802a" stroke-width="1.56" opacity="0.75"/><path d="M15.8,448.0 Q18.8,436.8 25.9,429.3" stroke="#62802a" stroke-width="0.82" opacity="0.74"/><path d="M118.8,482.2 Q116.8,459.7 112.3,444.7" stroke="#62802a" stroke-width="0.97" opacity="0.82"/><path d="M333.2,501.3 Q331.7,494.4 328.1,489.8" stroke="#98b050" stroke-width="1.26" opacity="0.70"/><path d="M329.6,491.1 Q333.5,454.3 342.8,429.7" stroke="#62802a" stroke-width="0.80" opacity="0.56"/><path d="M639.7,486.1 Q643.1,481.3 651.1,478.1" stroke="#98b050" stroke-width="1.28" opacity="0.90"/><path d="M292.7,457.9 Q293.2,449.5 294.4,443.9" stroke="#bccb7a" stroke-width="1.56" opacity="0.85"/><path d="M272.9,493.5 Q276.4,476.8 284.4,465.6" stroke="#a9bd62" stroke-width="1.42" opacity="0.68"/><path d="M103.4,494.9 Q100.7,489.4 94.2,485.8" stroke="#a9bd62" stroke-width="1.55" opacity="0.63"/><path d="M693.0,492.8 Q692.8,479.4 692.2,470.5" stroke="#62802a" stroke-width="1.42" opacity="0.86"/><path d="M280.3,445.6 Q277.7,430.2 271.5,420.0" stroke="#86a040" stroke-width="0.82" opacity="0.81"/><path d="M457.6,475.8 Q459.2,461.2 462.9,451.4" stroke="#86a040" stroke-width="1.78" opacity="0.87"/><path d="M695.3,486.6 Q697.8,472.1 703.7,462.5" stroke="#bccb7a" stroke-width="1.76" opacity="0.51"/><path d="M578.6,457.4 Q580.9,452.1 586.3,448.6" stroke="#62802a" stroke-width="1.38" opacity="0.84"/><path d="M536.6,463.4 Q538.4,432.8 542.6,412.4" stroke="#a9bd62" stroke-width="0.84" opacity="0.54"/><path d="M724.1,463.0 Q727.7,443.8 736.2,431.0" stroke="#62802a" stroke-width="1.41" opacity="0.59"/><path d="M386.7,498.8 Q387.0,476.4 387.9,461.5" stroke="#86a040" stroke-width="1.77" opacity="0.80"/><path d="M281.5,490.0 Q283.0,481.5 286.5,475.8" stroke="#bccb7a" stroke-width="1.19" opacity="0.55"/><path d="M517.1,478.2 Q520.3,466.7 527.9,459.0" stroke="#98b050" stroke-width="1.09" opacity="0.86"/><path d="M599.3,449.7 Q598.5,423.8 596.8,406.6" stroke="#98b050" stroke-width="1.02" opacity="0.53"/><path d="M423.9,494.8 Q423.2,476.9 421.6,465.0" stroke="#86a040" stroke-width="1.28" opacity="0.77"/><path d="M669.2,464.8 Q667.5,457.4 663.5,452.4" stroke="#62802a" stroke-width="1.40" opacity="0.58"/><path d="M139.2,480.7 Q141.2,463.4 145.6,452.0" stroke="#a9bd62" stroke-width="1.75" opacity="0.56"/><path d="M388.7,449.4 Q387.7,436.1 385.4,427.3" stroke="#98b050" stroke-width="1.69" opacity="0.78"/><path d="M599.7,495.4 Q596.5,478.5 588.9,467.2" stroke="#bccb7a" stroke-width="0.95" opacity="0.78"/><path d="M74.5,490.5 Q77.1,471.0 83.0,458.0" stroke="#c5d18c" stroke-width="1.69" opacity="0.75"/><path d="M434.9,497.2 Q437.6,485.8 443.7,478.2" stroke="#98b050" stroke-width="1.01" opacity="0.67"/><path d="M342.7,485.8 Q341.9,479.5 340.0,475.3" stroke="#62802a" stroke-width="1.27" opacity="0.50"/><path d="M738.1,502.7 Q737.1,497.9 734.8,494.6" stroke="#bccb7a" stroke-width="1.75" opacity="0.53"/><path d="M570.9,488.3 Q570.7,481.4 570.3,476.8" stroke="#bccb7a" stroke-width="1.55" opacity="0.59"/><path d="M255.5,453.5 Q257.7,414.1 262.9,387.8" stroke="#a9bd62" stroke-width="1.38" opacity="0.63"/><path d="M250.4,495.9 Q249.7,490.2 248.2,486.4" stroke="#98b050" stroke-width="1.07" opacity="0.82"/><path d="M105.5,503.0 Q102.9,490.5 96.6,482.1" stroke="#86a040" stroke-width="1.66" opacity="0.61"/><path d="M338.0,452.7 Q335.0,433.2 327.9,420.2" stroke="#a9bd62" stroke-width="0.82" opacity="0.75"/><path d="M720.2,497.1 Q717.7,474.8 711.7,459.9" stroke="#86a040" stroke-width="0.81" opacity="0.73"/><path d="M719.7,480.9 Q715.7,467.6 706.4,458.8" stroke="#98b050" stroke-width="1.19" opacity="0.85"/><path d="M324.5,480.6 Q325.6,441.1 328.3,414.8" stroke="#a9bd62" stroke-width="1.02" opacity="0.69"/><path d="M543.2,493.7 Q546.6,481.2 554.4,472.8" stroke="#a9bd62" stroke-width="1.80" opacity="0.84"/><path d="M671.0,453.9 Q674.9,441.5 684.2,433.2" stroke="#bccb7a" stroke-width="1.02" opacity="0.69"/><path d="M500.2,452.4 Q496.6,439.4 488.3,430.7" stroke="#86a040" stroke-width="0.84" opacity="0.68"/><path d="M108.4,483.9 Q106.8,470.2 103.3,461.1" stroke="#86a040" stroke-width="0.94" opacity="0.61"/><path d="M692.5,501.3 Q691.9,493.1 690.5,487.7" stroke="#bccb7a" stroke-width="0.93" opacity="0.79"/><path d="M248.3,457.9 Q251.6,436.9 259.3,423.0" stroke="#62802a" stroke-width="0.89" opacity="0.55"/><path d="M482.8,467.5 Q483.5,454.1 485.1,445.2" stroke="#98b050" stroke-width="1.77" opacity="0.56"/><path d="M8.3,445.8 Q9.7,436.7 12.9,430.6" stroke="#a9bd62" stroke-width="0.81" opacity="0.85"/><path d="M312.5,475.2 Q308.8,456.2 300.1,443.5" stroke="#62802a" stroke-width="1.04" opacity="0.81"/><path d="M665.2,491.6 Q661.8,478.9 654.0,470.4" stroke="#a9bd62" stroke-width="1.72" opacity="0.67"/><path d="M396.8,487.8 Q400.9,441.0 410.5,409.8" stroke="#bccb7a" stroke-width="1.65" opacity="0.77"/><path d="M512.2,483.7 Q513.2,475.1 515.6,469.3" stroke="#a9bd62" stroke-width="1.72" opacity="0.63"/><path d="M413.2,494.8 Q413.2,483.7 413.0,476.3" stroke="#62802a" stroke-width="1.36" opacity="0.76"/><path d="M27.0,489.5 Q25.9,468.8 23.5,455.0" stroke="#bccb7a" stroke-width="1.06" opacity="0.62"/><path d="M589.0,489.5 Q590.1,469.7 592.6,456.6" stroke="#86a040" stroke-width="0.97" opacity="0.86"/><path d="M527.1,480.5 Q530.0,459.2 536.5,445.1" stroke="#62802a" stroke-width="0.94" opacity="0.52"/><path d="M555.7,478.7 Q558.4,473.1 564.8,469.4" stroke="#86a040" stroke-width="1.47" opacity="0.79"/><path d="M14.7,469.7 Q14.2,455.3 13.1,445.7" stroke="#62802a" stroke-width="1.02" opacity="0.93"/><path d="M486.8,498.5 Q488.0,492.5 490.9,488.4" stroke="#bccb7a" stroke-width="0.92" opacity="0.84"/><path d="M569.7,475.9 Q566.8,440.8 560.1,417.3" stroke="#98b050" stroke-width="1.74" opacity="0.64"/><path d="M458.7,472.5 Q459.9,449.8 462.6,434.6" stroke="#86a040" stroke-width="1.42" opacity="0.79"/><path d="M515.9,471.8 Q512.9,450.6 506.0,436.5" stroke="#bccb7a" stroke-width="1.36" opacity="0.73"/><path d="M715.8,458.0 Q716.2,450.2 717.3,445.0" stroke="#bccb7a" stroke-width="1.64" opacity="0.63"/><path d="M669.4,460.9 Q673.2,444.5 682.2,433.7" stroke="#a9bd62" stroke-width="1.49" opacity="0.55"/><path d="M67.7,497.2 Q65.0,478.8 58.7,466.6" stroke="#62802a" stroke-width="1.18" opacity="0.79"/><path d="M543.8,460.6 Q540.4,449.9 532.5,442.8" stroke="#a9bd62" stroke-width="1.09" opacity="0.65"/><path d="M752.2,469.5 Q748.3,463.5 739.3,459.4" stroke="#a9bd62" stroke-width="1.59" opacity="0.90"/><path d="M378.8,451.3 Q374.9,442.4 365.6,436.5" stroke="#62802a" stroke-width="1.34" opacity="0.79"/><path d="M511.7,464.4 Q510.7,458.2 508.3,454.1" stroke="#98b050" stroke-width="1.57" opacity="0.55"/><path d="M402.3,450.0 Q401.8,413.0 400.6,388.3" stroke="#bccb7a" stroke-width="1.11" opacity="0.70"/><path d="M617.2,447.3 Q614.1,399.8 606.9,368.1" stroke="#c5d18c" stroke-width="1.43" opacity="0.91"/><path d="M241.9,493.7 Q238.1,486.3 229.4,481.5" stroke="#c5d18c" stroke-width="1.27" opacity="0.70"/><path d="M690.5,479.4 Q692.6,469.5 697.4,462.9" stroke="#bccb7a" stroke-width="1.26" opacity="0.68"/><path d="M533.2,450.9 Q537.0,437.9 545.8,429.2" stroke="#a9bd62" stroke-width="1.25" opacity="0.61"/><path d="M184.3,483.6 Q184.0,474.1 183.3,467.8" stroke="#c5d18c" stroke-width="0.96" opacity="0.81"/><path d="M74.8,479.8 Q71.0,468.6 62.2,461.1" stroke="#c5d18c" stroke-width="1.36" opacity="0.59"/><path d="M13.0,479.7 Q16.1,459.7 23.5,446.4" stroke="#62802a" stroke-width="1.72" opacity="0.63"/><path d="M248.0,497.6 Q247.3,485.3 245.6,477.0" stroke="#98b050" stroke-width="1.09" opacity="0.59"/><path d="M716.3,447.0 Q720.2,439.3 729.2,434.2" stroke="#86a040" stroke-width="1.46" opacity="0.69"/><path d="M630.0,485.5 Q630.0,467.6 630.1,455.6" stroke="#c5d18c" stroke-width="1.49" opacity="0.86"/><path d="M5.8,479.6 Q5.6,465.1 5.3,455.4" stroke="#86a040" stroke-width="1.64" opacity="0.52"/><path d="M400.7,473.7 Q404.7,465.3 414.0,459.6" stroke="#62802a" stroke-width="1.04" opacity="0.87"/><path d="M488.5,468.1 Q486.6,459.2 482.1,453.2" stroke="#a9bd62" stroke-width="1.01" opacity="0.61"/><path d="M45.7,500.9 Q43.4,485.6 38.0,475.4" stroke="#a9bd62" stroke-width="1.17" opacity="0.77"/><path d="M569.3,471.7 Q567.3,465.8 562.6,461.8" stroke="#a9bd62" stroke-width="0.95" opacity="0.53"/><path d="M6.0,491.0 Q5.5,477.9 4.2,469.2" stroke="#86a040" stroke-width="1.28" opacity="0.73"/><path d="M13.8,492.7 Q16.6,476.7 23.2,466.0" stroke="#62802a" stroke-width="1.40" opacity="0.91"/><path d="M640.5,457.3 Q640.5,444.5 640.5,435.9" stroke="#a9bd62" stroke-width="1.50" opacity="0.59"/><path d="M399.8,498.3 Q395.9,486.3 386.8,478.4" stroke="#a9bd62" stroke-width="1.10" opacity="0.83"/><path d="M289.7,455.0 Q291.3,409.5 295.0,379.2" stroke="#98b050" stroke-width="0.93" opacity="0.91"/><path d="M106.7,502.7 Q104.2,488.4 98.3,478.9" stroke="#c5d18c" stroke-width="1.66" opacity="0.81"/><path d="M573.2,497.2 Q572.5,454.2 570.8,425.5" stroke="#c5d18c" stroke-width="1.70" opacity="0.75"/><path d="M620.8,489.1 Q621.5,480.7 623.1,475.0" stroke="#c5d18c" stroke-width="1.48" opacity="0.85"/><path d="M140.6,477.0 Q141.5,470.5 143.6,466.2" stroke="#bccb7a" stroke-width="1.62" opacity="0.78"/><path d="M713.7,489.6 Q716.5,476.4 722.9,467.6" stroke="#bccb7a" stroke-width="1.53" opacity="0.90"/><path d="M364.7,467.1 Q363.6,425.7 361.1,398.1" stroke="#86a040" stroke-width="1.06" opacity="0.76"/><path d="M666.7,464.8 Q665.8,430.9 663.7,408.3" stroke="#62802a" stroke-width="1.24" opacity="0.87"/><path d="M169.1,462.7 Q166.7,448.2 161.2,438.6" stroke="#c5d18c" stroke-width="1.45" opacity="0.64"/><path d="M260.6,491.2 Q262.9,475.0 268.4,464.3" stroke="#62802a" stroke-width="1.69" opacity="0.84"/><path d="M655.2,485.9 Q658.4,472.3 665.8,463.3" stroke="#98b050" stroke-width="1.24" opacity="0.57"/><path d="M506.2,459.6 Q504.5,453.2 500.7,448.9" stroke="#86a040" stroke-width="1.09" opacity="0.54"/><path d="M257.1,501.7 Q254.7,490.7 249.0,483.4" stroke="#c5d18c" stroke-width="0.90" opacity="0.65"/><path d="M624.3,474.8 Q626.0,452.6 629.9,437.8" stroke="#a9bd62" stroke-width="1.39" opacity="0.90"/><path d="M229.6,472.6 Q229.7,436.0 230.0,411.6" stroke="#a9bd62" stroke-width="1.65" opacity="0.76"/><path d="M337.2,484.4 Q336.6,472.3 335.1,464.2" stroke="#98b050" stroke-width="0.86" opacity="0.65"/><path d="M23.8,492.2 Q20.5,470.5 12.8,456.0" stroke="#a9bd62" stroke-width="1.25" opacity="0.83"/><path d="M26.4,451.5 Q22.8,430.4 14.3,416.4" stroke="#a9bd62" stroke-width="1.09" opacity="0.63"/><path d="M322.4,458.9 Q324.1,448.8 327.9,442.0" stroke="#62802a" stroke-width="1.49" opacity="0.73"/><path d="M641.9,495.5 Q639.2,475.4 632.9,462.1" stroke="#86a040" stroke-width="1.80" opacity="0.88"/><path d="M692.7,465.4 Q691.9,458.5 690.0,453.9" stroke="#86a040" stroke-width="1.80" opacity="0.56"/><path d="M561.6,488.6 Q558.8,478.8 552.4,472.3" stroke="#86a040" stroke-width="0.81" opacity="0.81"/><path d="M234.1,456.7 Q234.2,435.5 234.6,421.4" stroke="#a9bd62" stroke-width="1.09" opacity="0.52"/><path d="M615.3,484.5 Q616.0,470.8 617.6,461.6" stroke="#62802a" stroke-width="0.83" opacity="0.55"/><path d="M415.3,451.0 Q418.2,439.9 425.0,432.5" stroke="#a9bd62" stroke-width="0.85" opacity="0.72"/><path d="M165.0,504.3 Q164.6,495.6 163.7,489.7" stroke="#a9bd62" stroke-width="1.50" opacity="0.84"/><path d="M77.4,486.6 Q78.5,465.6 81.1,451.6" stroke="#c5d18c" stroke-width="1.38" opacity="0.91"/><path d="M261.0,465.2 Q259.4,446.4 255.6,433.9" stroke="#86a040" stroke-width="0.98" opacity="0.82"/><path d="M367.2,445.6 Q370.2,425.5 377.0,412.1" stroke="#c5d18c" stroke-width="1.55" opacity="0.84"/><path d="M710.1,458.1 Q710.0,451.6 709.6,447.2" stroke="#c5d18c" stroke-width="1.06" opacity="0.71"/><path d="M274.1,502.4 Q276.1,482.6 280.9,469.3" stroke="#62802a" stroke-width="1.75" opacity="0.73"/><path d="M262.8,461.1 Q263.5,441.1 265.1,427.8" stroke="#86a040" stroke-width="0.95" opacity="0.50"/><path d="M438.1,458.7 Q435.8,448.4 430.5,441.6" stroke="#98b050" stroke-width="1.18" opacity="0.79"/><path d="M160.0,495.5 Q157.2,477.0 150.8,464.7" stroke="#62802a" stroke-width="1.39" opacity="0.82"/><path d="M550.2,474.2 Q551.8,458.1 555.5,447.4" stroke="#a9bd62" stroke-width="1.40" opacity="0.77"/><path d="M601.9,484.0 Q602.4,467.7 603.7,456.8" stroke="#62802a" stroke-width="1.79" opacity="0.51"/><path d="M5.4,454.9 Q4.4,436.0 2.1,423.3" stroke="#86a040" stroke-width="1.65" opacity="0.77"/><path d="M250.6,456.6 Q252.6,440.5 257.4,429.7" stroke="#62802a" stroke-width="1.73" opacity="0.51"/><path d="M373.0,462.7 Q370.1,453.0 363.5,446.6" stroke="#86a040" stroke-width="1.63" opacity="0.62"/><path d="M480.0,463.7 Q480.8,454.5 482.9,448.4" stroke="#bccb7a" stroke-width="1.61" opacity="0.67"/><path d="M607.5,449.0 Q606.7,426.6 604.9,411.7" stroke="#c5d18c" stroke-width="1.79" opacity="0.92"/><path d="M41.8,504.3 Q39.3,488.7 33.5,478.4" stroke="#c5d18c" stroke-width="1.06" opacity="0.73"/><path d="M127.8,470.9 Q126.9,463.2 124.6,458.0" stroke="#c5d18c" stroke-width="1.66" opacity="0.92"/><path d="M424.1,492.1 Q428.1,482.2 437.5,475.6" stroke="#86a040" stroke-width="1.29" opacity="0.74"/><path d="M542.4,490.9 Q542.0,469.2 540.8,454.7" stroke="#62802a" stroke-width="1.04" opacity="0.61"/><path d="M533.6,458.2 Q533.1,451.2 532.1,446.5" stroke="#86a040" stroke-width="1.34" opacity="0.86"/><path d="M646.9,453.8 Q648.5,437.9 652.4,427.3" stroke="#a9bd62" stroke-width="1.60" opacity="0.87"/><path d="M43.9,470.6 Q46.1,423.9 51.1,392.7" stroke="#bccb7a" stroke-width="1.59" opacity="0.70"/><path d="M745.1,476.2 Q742.8,465.3 737.4,458.0" stroke="#98b050" stroke-width="1.29" opacity="0.72"/><path d="M493.3,478.7 Q491.8,456.6 488.3,441.9" stroke="#86a040" stroke-width="1.79" opacity="0.59"/><path d="M410.7,460.2 Q412.1,430.7 415.4,411.0" stroke="#86a040" stroke-width="1.47" opacity="0.76"/><path d="M674.5,473.6 Q673.3,464.1 670.7,457.8" stroke="#a9bd62" stroke-width="1.11" opacity="0.86"/><path d="M688.1,490.9 Q688.6,464.4 689.7,446.7" stroke="#bccb7a" stroke-width="0.92" opacity="0.74"/><path d="M198.9,453.6 Q201.1,440.9 206.3,432.5" stroke="#62802a" stroke-width="1.73" opacity="0.60"/><path d="M242.1,456.1 Q241.1,439.5 238.8,428.5" stroke="#a9bd62" stroke-width="1.06" opacity="0.94"/><path d="M538.0,489.2 Q536.3,484.3 532.6,481.0" stroke="#86a040" stroke-width="0.94" opacity="0.82"/><path d="M471.0,466.8 Q469.1,422.0 464.8,392.2" stroke="#86a040" stroke-width="1.23" opacity="0.73"/><path d="M338.7,463.6 Q337.1,428.2 333.3,404.6" stroke="#a9bd62" stroke-width="1.04" opacity="0.69"/><path d="M73.9,459.3 Q75.4,445.1 78.8,435.6" stroke="#c5d18c" stroke-width="1.27" opacity="0.73"/><path d="M148.0,487.6 Q147.3,471.7 145.6,461.1" stroke="#c5d18c" stroke-width="1.27" opacity="0.75"/><path d="M675.3,499.4 Q675.2,490.5 674.9,484.6" stroke="#bccb7a" stroke-width="0.87" opacity="0.54"/><path d="M669.9,479.7 Q666.0,462.1 657.1,450.3" stroke="#86a040" stroke-width="1.74" opacity="0.80"/><path d="M33.3,470.5 Q30.8,455.1 25.1,444.7" stroke="#98b050" stroke-width="1.49" opacity="0.85"/><path d="M320.3,458.4 Q321.5,411.1 324.4,379.6" stroke="#62802a" stroke-width="1.58" opacity="0.56"/><path d="M713.4,496.9 Q711.7,476.2 707.7,462.3" stroke="#86a040" stroke-width="1.12" opacity="0.92"/><path d="M629.5,501.1 Q627.7,495.0 623.4,490.9" stroke="#c5d18c" stroke-width="1.17" opacity="0.64"/><path d="M388.5,489.6 Q391.4,470.7 398.3,458.0" stroke="#86a040" stroke-width="1.32" opacity="0.67"/><path d="M197.4,469.7 Q201.0,451.4 209.5,439.2" stroke="#a9bd62" stroke-width="1.14" opacity="0.52"/><path d="M584.0,499.6 Q587.2,485.3 594.8,475.8" stroke="#c5d18c" stroke-width="1.52" opacity="0.69"/><path d="M22.8,502.1 Q22.1,469.8 20.4,448.2" stroke="#bccb7a" stroke-width="1.64" opacity="0.64"/><path d="M243.2,458.8 Q245.3,413.4 250.4,383.1" stroke="#bccb7a" stroke-width="1.02" opacity="0.79"/><path d="M266.9,462.9 Q266.9,447.1 267.0,436.7" stroke="#86a040" stroke-width="1.56" opacity="0.57"/><path d="M144.7,468.6 Q148.1,452.2 156.0,441.3" stroke="#a9bd62" stroke-width="1.59" opacity="0.82"/><path d="M11.0,486.2 Q7.0,476.9 -2.3,470.6" stroke="#a9bd62" stroke-width="1.66" opacity="0.75"/><path d="M709.6,486.2 Q709.8,459.5 710.3,441.6" stroke="#c5d18c" stroke-width="1.79" opacity="0.58"/><path d="M435.2,483.6 Q436.1,462.8 438.3,449.0" stroke="#c5d18c" stroke-width="0.96" opacity="0.77"/><path d="M361.8,504.8 Q363.6,491.8 367.9,483.1" stroke="#bccb7a" stroke-width="1.13" opacity="0.94"/><path d="M493.4,473.3 Q491.4,456.7 486.8,445.6" stroke="#a9bd62" stroke-width="1.60" opacity="0.54"/><path d="M660.4,447.2 Q661.7,436.6 664.8,429.6" stroke="#bccb7a" stroke-width="0.92" opacity="0.93"/><path d="M394.0,489.9 Q394.7,474.5 396.2,464.3" stroke="#a9bd62" stroke-width="1.30" opacity="0.91"/><path d="M445.6,459.1 Q445.2,452.3 444.2,447.8" stroke="#a9bd62" stroke-width="1.02" opacity="0.80"/><path d="M522.9,461.4 Q525.3,446.0 531.0,435.7" stroke="#62802a" stroke-width="1.40" opacity="0.80"/><path d="M436.1,498.6 Q432.8,484.8 425.1,475.7" stroke="#98b050" stroke-width="1.35" opacity="0.77"/><path d="M684.5,481.2 Q685.5,464.7 688.0,453.7" stroke="#86a040" stroke-width="1.43" opacity="0.56"/><path d="M20.1,490.2 Q20.9,467.6 22.7,452.5" stroke="#86a040" stroke-width="1.46" opacity="0.72"/><path d="M613.8,464.6 Q615.3,446.3 618.8,434.1" stroke="#86a040" stroke-width="0.92" opacity="0.83"/><path d="M709.9,489.4 Q711.4,484.2 714.7,480.7" stroke="#c5d18c" stroke-width="1.33" opacity="0.92"/><path d="M243.8,484.9 Q242.4,462.2 239.3,447.2" stroke="#86a040" stroke-width="0.87" opacity="0.53"/><path d="M49.8,485.3 Q53.1,479.2 60.8,475.1" stroke="#86a040" stroke-width="1.24" opacity="0.88"/><path d="M284.7,480.9 Q281.2,458.1 273.1,442.9" stroke="#c5d18c" stroke-width="1.68" opacity="0.81"/><path d="M196.4,488.8 Q194.1,450.6 188.6,425.1" stroke="#62802a" stroke-width="1.12" opacity="0.56"/><path d="M451.7,445.7 Q454.6,437.4 461.3,431.8" stroke="#c5d18c" stroke-width="1.17" opacity="0.62"/><path d="M369.1,449.4 Q367.6,432.4 364.0,421.1" stroke="#62802a" stroke-width="1.61" opacity="0.52"/><path d="M665.6,448.8 Q669.7,438.1 679.1,431.0" stroke="#a9bd62" stroke-width="1.27" opacity="0.90"/><path d="M638.1,477.2 Q634.1,464.1 624.8,455.4" stroke="#98b050" stroke-width="1.18" opacity="0.55"/><path d="M574.6,487.6 Q573.5,477.9 570.8,471.5" stroke="#62802a" stroke-width="1.26" opacity="0.59"/><path d="M742.6,503.7 Q744.6,495.4 749.1,489.8" stroke="#86a040" stroke-width="1.43" opacity="0.51"/><path d="M660.2,500.9 Q656.2,495.8 646.8,492.4" stroke="#c5d18c" stroke-width="1.23" opacity="0.90"/><path d="M103.5,500.0 Q100.2,489.0 92.5,481.7" stroke="#bccb7a" stroke-width="1.06" opacity="0.59"/><path d="M488.1,477.5 Q490.3,466.0 495.4,458.3" stroke="#c5d18c" stroke-width="0.97" opacity="0.61"/><path d="M248.9,455.0 Q247.1,440.7 243.0,431.3" stroke="#bccb7a" stroke-width="1.60" opacity="0.94"/><path d="M683.4,503.1 Q685.4,496.1 690.0,491.4" stroke="#bccb7a" stroke-width="1.07" opacity="0.89"/><path d="M711.6,500.8 Q711.3,479.3 710.8,464.9" stroke="#98b050" stroke-width="1.26" opacity="0.74"/><path d="M191.1,490.4 Q192.9,469.7 196.9,455.9" stroke="#86a040" stroke-width="1.75" opacity="0.52"/><path d="M252.8,458.7 Q254.6,437.9 258.8,424.1" stroke="#c5d18c" stroke-width="1.69" opacity="0.93"/><path d="M517.0,486.2 Q519.4,463.4 525.1,448.2" stroke="#86a040" stroke-width="1.51" opacity="0.67"/><path d="M578.3,449.8 Q579.0,430.0 580.7,416.8" stroke="#98b050" stroke-width="1.80" opacity="0.95"/><path d="M715.7,447.6 Q718.4,436.7 724.8,429.4" stroke="#62802a" stroke-width="1.80" opacity="0.59"/><path d="M726.4,491.5 Q722.9,469.2 714.6,454.3" stroke="#a9bd62" stroke-width="0.97" opacity="0.78"/><path d="M93.9,495.0 Q95.8,474.4 100.3,460.7" stroke="#c5d18c" stroke-width="1.63" opacity="0.78"/><path d="M84.5,462.1 Q88.4,452.9 97.6,446.7" stroke="#a9bd62" stroke-width="0.93" opacity="0.94"/><path d="M274.0,495.1 Q271.2,485.5 264.5,479.1" stroke="#bccb7a" stroke-width="1.22" opacity="0.92"/><path d="M455.9,461.7 Q453.1,447.8 446.4,438.5" stroke="#86a040" stroke-width="1.62" opacity="0.81"/><path d="M474.1,482.1 Q470.8,466.4 463.3,455.9" stroke="#62802a" stroke-width="1.10" opacity="0.51"/><path d="M490.5,475.6 Q486.8,461.8 478.3,452.7" stroke="#bccb7a" stroke-width="1.13" opacity="0.61"/><path d="M472.8,478.2 Q472.0,464.9 470.2,456.0" stroke="#c5d18c" stroke-width="1.15" opacity="0.78"/><path d="M667.4,453.9 Q668.5,423.7 671.0,403.6" stroke="#98b050" stroke-width="1.72" opacity="0.57"/><path d="M511.2,460.6 Q509.0,447.7 503.9,439.1" stroke="#98b050" stroke-width="1.21" opacity="0.74"/><path d="M651.7,455.4 Q647.5,440.0 637.7,429.7" stroke="#bccb7a" stroke-width="1.78" opacity="0.59"/><path d="M530.8,468.8 Q534.2,430.5 541.9,404.9" stroke="#c5d18c" stroke-width="0.81" opacity="0.79"/><path d="M188.0,495.6 Q187.6,454.3 186.7,426.9" stroke="#bccb7a" stroke-width="1.45" opacity="0.53"/><path d="M526.4,504.3 Q525.9,486.7 524.7,474.9" stroke="#c5d18c" stroke-width="1.48" opacity="0.66"/><path d="M343.4,480.1 Q339.7,470.4 331.2,463.8" stroke="#98b050" stroke-width="0.89" opacity="0.54"/><path d="M192.2,496.9 Q195.2,475.3 202.3,460.9" stroke="#c5d18c" stroke-width="1.53" opacity="0.69"/><path d="M367.1,468.7 Q366.8,458.1 366.2,451.0" stroke="#98b050" stroke-width="0.83" opacity="0.88"/><path d="M202.1,500.2 Q201.7,484.8 200.6,474.6" stroke="#62802a" stroke-width="1.18" opacity="0.71"/><path d="M410.6,496.6 Q408.5,475.8 403.6,461.9" stroke="#86a040" stroke-width="1.19" opacity="0.58"/><path d="M603.8,479.6 Q603.7,458.8 603.5,444.8" stroke="#c5d18c" stroke-width="0.87" opacity="0.93"/><path d="M479.9,470.9 Q477.9,463.6 473.3,458.7" stroke="#c5d18c" stroke-width="1.50" opacity="0.62"/><path d="M513.1,481.9 Q512.0,465.0 509.6,453.8" stroke="#c5d18c" stroke-width="1.19" opacity="0.87"/><path d="M220.3,455.3 Q223.4,448.2 230.8,443.5" stroke="#bccb7a" stroke-width="1.22" opacity="0.61"/><path d="M663.5,496.1 Q663.5,485.8 663.4,478.9" stroke="#98b050" stroke-width="1.33" opacity="0.80"/><path d="M507.0,493.7 Q506.4,479.7 505.0,470.4" stroke="#c5d18c" stroke-width="1.76" opacity="0.80"/><path d="M203.4,490.6 Q202.7,470.1 201.2,456.5" stroke="#c5d18c" stroke-width="1.63" opacity="0.51"/><path d="M350.7,502.2 Q349.8,488.1 347.6,478.7" stroke="#a9bd62" stroke-width="0.97" opacity="0.92"/><path d="M664.6,449.9 Q661.1,434.7 652.9,424.5" stroke="#a9bd62" stroke-width="1.14" opacity="0.83"/><path d="M338.2,483.8 Q337.4,472.5 335.6,464.9" stroke="#a9bd62" stroke-width="1.61" opacity="0.63"/><path d="M660.1,455.0 Q658.8,435.7 655.8,422.9" stroke="#a9bd62" stroke-width="1.55" opacity="0.57"/><path d="M618.5,457.1 Q621.1,438.8 627.3,426.7" stroke="#bccb7a" stroke-width="1.65" opacity="0.92"/><path d="M707.0,448.7 Q705.3,440.7 701.2,435.3" stroke="#98b050" stroke-width="1.69" opacity="0.95"/><path d="M124.7,500.5 Q124.6,480.5 124.4,467.2" stroke="#86a040" stroke-width="1.30" opacity="0.81"/><path d="M161.9,500.6 Q158.9,457.1 151.9,428.1" stroke="#c5d18c" stroke-width="1.57" opacity="0.77"/><path d="M564.6,476.9 Q568.1,466.3 576.4,459.2" stroke="#62802a" stroke-width="0.99" opacity="0.90"/><path d="M133.1,480.6 Q129.3,461.4 120.7,448.5" stroke="#bccb7a" stroke-width="1.41" opacity="0.72"/><path d="M679.8,498.2 Q681.7,480.4 685.9,468.4" stroke="#98b050" stroke-width="0.99" opacity="0.90"/><path d="M645.6,454.4 Q644.2,446.1 640.9,440.5" stroke="#98b050" stroke-width="1.20" opacity="0.51"/><path d="M129.4,483.7 Q130.3,472.5 132.2,465.1" stroke="#98b050" stroke-width="1.22" opacity="0.61"/><path d="M471.0,499.5 Q470.7,477.3 469.9,462.5" stroke="#98b050" stroke-width="1.21" opacity="0.53"/><path d="M50.7,502.4 Q52.3,487.5 56.0,477.6" stroke="#98b050" stroke-width="1.43" opacity="0.69"/><path d="M292.5,503.2 Q295.1,475.6 301.4,457.2" stroke="#c5d18c" stroke-width="1.41" opacity="0.50"/><path d="M207.0,487.1 Q203.6,474.5 195.7,466.1" stroke="#62802a" stroke-width="1.70" opacity="0.93"/><path d="M571.9,462.6 Q572.3,455.7 573.2,451.1" stroke="#bccb7a" stroke-width="1.78" opacity="0.91"/><path d="M376.9,498.2 Q373.4,493.1 365.2,489.6" stroke="#c5d18c" stroke-width="0.86" opacity="0.90"/><path d="M313.2,452.2 Q309.4,438.3 300.7,429.0" stroke="#62802a" stroke-width="1.45" opacity="0.51"/><path d="M277.1,494.7 Q275.9,473.3 273.1,459.0" stroke="#62802a" stroke-width="1.12" opacity="0.55"/><path d="M182.1,496.9 Q185.8,480.2 194.4,469.0" stroke="#62802a" stroke-width="1.66" opacity="0.73"/><path d="M306.9,460.0 Q305.3,450.2 301.5,443.6" stroke="#62802a" stroke-width="0.99" opacity="0.80"/><path d="M362.5,446.9 Q362.6,424.8 362.8,410.1" stroke="#bccb7a" stroke-width="1.43" opacity="0.77"/><path d="M693.1,503.7 Q693.4,486.5 694.1,475.0" stroke="#62802a" stroke-width="1.22" opacity="0.82"/><path d="M258.9,483.3 Q258.8,469.8 258.7,460.8" stroke="#a9bd62" stroke-width="0.84" opacity="0.63"/><path d="M477.5,504.3 Q478.2,497.7 479.9,493.3" stroke="#bccb7a" stroke-width="1.00" opacity="0.57"/><path d="M100.1,492.6 Q97.1,482.1 90.0,475.1" stroke="#86a040" stroke-width="1.01" opacity="0.61"/><path d="M445.5,487.2 Q445.8,472.0 446.4,461.8" stroke="#62802a" stroke-width="1.34" opacity="0.82"/><path d="M530.8,468.6 Q531.4,448.5 532.8,435.2" stroke="#a9bd62" stroke-width="1.00" opacity="0.92"/><path d="M52.1,483.2 Q54.2,471.7 59.0,464.0" stroke="#c5d18c" stroke-width="1.62" opacity="0.89"/><path d="M691.1,476.6 Q687.4,460.3 678.5,449.4" stroke="#62802a" stroke-width="1.59" opacity="0.83"/><path d="M378.6,466.0 Q376.1,459.2 370.1,454.7" stroke="#98b050" stroke-width="1.27" opacity="0.54"/><path d="M327.4,465.5 Q328.1,446.8 329.7,434.2" stroke="#98b050" stroke-width="0.99" opacity="0.67"/><path d="M462.7,491.4 Q461.7,483.2 459.5,477.8" stroke="#62802a" stroke-width="1.01" opacity="0.93"/><path d="M539.1,449.1 Q540.1,432.0 542.4,420.6" stroke="#a9bd62" stroke-width="1.52" opacity="0.68"/><path d="M138.0,488.9 Q136.0,479.3 131.1,473.0" stroke="#c5d18c" stroke-width="1.54" opacity="0.80"/><path d="M424.5,488.7 Q421.2,482.8 413.6,478.8" stroke="#62802a" stroke-width="1.79" opacity="0.65"/><path d="M550.1,469.7 Q546.1,449.9 536.8,436.7" stroke="#bccb7a" stroke-width="0.91" opacity="0.75"/><path d="M746.7,496.9 Q744.7,455.6 739.9,428.1" stroke="#c5d18c" stroke-width="1.78" opacity="0.55"/><path d="M96.7,499.2 Q95.0,484.7 91.2,475.0" stroke="#a9bd62" stroke-width="1.73" opacity="0.76"/><path d="M424.0,461.8 Q423.2,455.9 421.3,452.0" stroke="#98b050" stroke-width="1.19" opacity="0.71"/><path d="M122.2,487.8 Q124.5,476.0 129.8,468.2" stroke="#bccb7a" stroke-width="1.14" opacity="0.88"/><path d="M24.4,497.4 Q26.8,486.1 32.4,478.6" stroke="#62802a" stroke-width="1.21" opacity="0.56"/><path d="M213.5,480.2 Q217.4,440.3 226.6,413.7" stroke="#86a040" stroke-width="0.97" opacity="0.85"/><path d="M711.4,447.1 Q707.4,440.3 698.2,435.8" stroke="#bccb7a" stroke-width="0.93" opacity="0.54"/><path d="M738.3,455.0 Q735.8,446.1 730.1,440.2" stroke="#a9bd62" stroke-width="1.56" opacity="0.61"/><path d="M663.4,488.6 Q664.2,473.2 666.1,462.9" stroke="#a9bd62" stroke-width="1.33" opacity="0.56"/><path d="M538.7,449.2 Q542.0,439.0 549.7,432.2" stroke="#bccb7a" stroke-width="1.68" opacity="0.59"/><path d="M520.6,455.9 Q523.1,425.7 528.9,405.5" stroke="#86a040" stroke-width="1.33" opacity="0.81"/><path d="M252.4,481.9 Q250.2,467.7 245.1,458.2" stroke="#c5d18c" stroke-width="0.99" opacity="0.63"/><path d="M168.0,452.3 Q167.1,443.6 165.1,437.8" stroke="#c5d18c" stroke-width="0.87" opacity="0.69"/><path d="M711.2,478.1 Q710.4,456.2 708.6,441.6" stroke="#c5d18c" stroke-width="1.63" opacity="0.79"/><path d="M604.5,462.5 Q608.2,454.8 616.8,449.6" stroke="#62802a" stroke-width="1.49" opacity="0.60"/><path d="M640.6,461.7 Q644.4,426.6 653.4,403.2" stroke="#bccb7a" stroke-width="1.68" opacity="0.64"/><path d="M205.5,479.2 Q205.3,461.8 204.9,450.3" stroke="#98b050" stroke-width="1.17" opacity="0.88"/><path d="M598.6,460.8 Q600.2,455.8 603.9,452.6" stroke="#bccb7a" stroke-width="1.60" opacity="0.65"/><path d="M273.9,499.2 Q274.5,483.2 275.8,472.5" stroke="#a9bd62" stroke-width="1.09" opacity="0.90"/><path d="M604.8,452.0 Q603.1,429.2 599.1,414.0" stroke="#86a040" stroke-width="1.48" opacity="0.86"/><path d="M334.5,480.2 Q331.8,471.4 325.6,465.5" stroke="#98b050" stroke-width="1.68" opacity="0.60"/><path d="M409.5,475.5 Q407.6,455.5 403.4,442.2" stroke="#86a040" stroke-width="1.46" opacity="0.51"/><path d="M517.3,458.9 Q518.8,451.8 522.4,447.0" stroke="#62802a" stroke-width="0.96" opacity="0.92"/><path d="M187.8,487.9 Q183.6,482.9 174.0,479.5" stroke="#a9bd62" stroke-width="0.98" opacity="0.74"/><path d="M266.2,464.9 Q267.2,432.8 269.6,411.4" stroke="#86a040" stroke-width="1.75" opacity="0.80"/><path d="M515.3,501.4 Q512.6,483.9 506.2,472.3" stroke="#bccb7a" stroke-width="1.20" opacity="0.84"/><path d="M433.6,487.6 Q435.4,475.6 439.8,467.6" stroke="#98b050" stroke-width="1.35" opacity="0.60"/><path d="M348.1,491.1 Q349.0,486.1 351.2,482.7" stroke="#62802a" stroke-width="1.72" opacity="0.71"/><path d="M559.0,451.4 Q557.2,432.0 553.1,419.0" stroke="#a9bd62" stroke-width="1.27" opacity="0.79"/><path d="M621.0,449.6 Q623.0,439.4 627.5,432.6" stroke="#a9bd62" stroke-width="0.89" opacity="0.89"/><path d="M616.4,471.7 Q619.3,453.4 625.9,441.2" stroke="#98b050" stroke-width="1.02" opacity="0.83"/><path d="M80.4,480.7 Q80.9,458.0 82.0,442.9" stroke="#bccb7a" stroke-width="1.60" opacity="0.73"/><path d="M671.9,497.5 Q672.9,490.3 675.1,485.5" stroke="#98b050" stroke-width="1.45" opacity="0.50"/><path d="M582.1,490.2 Q584.5,443.5 589.9,412.4" stroke="#62802a" stroke-width="1.12" opacity="0.66"/><path d="M568.1,503.5 Q570.9,484.4 577.3,471.7" stroke="#bccb7a" stroke-width="1.52" opacity="0.73"/><path d="M526.6,468.7 Q527.1,462.4 528.2,458.2" stroke="#a9bd62" stroke-width="1.24" opacity="0.56"/><path d="M260.3,490.6 Q256.2,476.9 246.6,467.8" stroke="#a9bd62" stroke-width="0.88" opacity="0.63"/><path d="M593.8,501.3 Q595.9,489.6 600.7,481.8" stroke="#c5d18c" stroke-width="1.65" opacity="0.68"/><path d="M63.4,485.3 Q63.7,467.5 64.3,455.6" stroke="#a9bd62" stroke-width="1.69" opacity="0.71"/><path d="M290.7,489.4 Q291.4,481.4 293.2,476.1" stroke="#a9bd62" stroke-width="1.42" opacity="0.59"/><path d="M407.2,503.4 Q404.7,494.6 398.7,488.8" stroke="#a9bd62" stroke-width="1.28" opacity="0.63"/><path d="M570.0,449.1 Q571.2,402.8 574.0,372.0" stroke="#a9bd62" stroke-width="1.68" opacity="0.55"/><path d="M480.3,485.3 Q477.3,476.3 470.4,470.2" stroke="#c5d18c" stroke-width="1.31" opacity="0.80"/><path d="M458.8,474.9 Q461.7,462.7 468.6,454.6" stroke="#a9bd62" stroke-width="1.37" opacity="0.65"/><path d="M662.1,458.3 Q661.6,444.5 660.5,435.3" stroke="#62802a" stroke-width="1.14" opacity="0.51"/><path d="M598.4,485.2 Q596.1,468.6 590.5,457.5" stroke="#bccb7a" stroke-width="1.63" opacity="0.62"/><path d="M338.6,447.3 Q339.4,425.0 341.3,410.1" stroke="#86a040" stroke-width="1.78" opacity="0.87"/><path d="M331.2,460.9 Q331.9,436.6 333.7,420.4" stroke="#bccb7a" stroke-width="0.89" opacity="0.76"/><path d="M451.9,455.5 Q447.7,445.3 438.1,438.5" stroke="#86a040" stroke-width="1.30" opacity="0.85"/><path d="M686.4,497.7 Q682.4,475.0 673.0,459.8" stroke="#bccb7a" stroke-width="1.49" opacity="0.85"/></g>
<!-- title -->
<g font-family="Liberation Sans, sans-serif" font-weight="900" text-anchor="middle" stroke-linejoin="round">
<g transform="translate(374 163) scale(1 1.2) translate(-374 -163)">
<text x="374" y="180" font-size="46.3" fill="#fff" stroke="#fff" stroke-width="7">中国共产党纪律处分条例</text>
<text x="374" y="180" font-size="46.3" fill="url(#tOr)" stroke="#ef7a2b" stroke-width="2.2">中国共产党纪律处分条例</text>
</g>
<g fill="none" stroke-linecap="round" stroke-linejoin="miter">
<path d="M102.5,135.3 L88.3,163.2 L102.5,190.4 M109.9,135.3 L95.8,163.2 L109.9,190.4" stroke="#fff" stroke-width="7.5"/>
<path d="M102.5,135.3 L88.3,163.2 L102.5,190.4 M109.9,135.3 L95.8,163.2 L109.9,190.4" stroke="#ee7a2c" stroke-width="2.6"/>
<path d="M637.7,136 L653,163 L637.7,190 M644,136 L659.7,163 L644,190" stroke="#fff" stroke-width="7.5"/>
<path d="M637.7,136 L653,163 L637.7,190 M644,136 L659.7,163 L644,190" stroke="#ee7a2c" stroke-width="2.6"/>
</g>
<g transform="translate(374 243) scale(1 1.14) translate(-374 -243)">
<text x="374" y="261" font-size="51" fill="#fff" stroke="#fff" stroke-width="9">学习问答</text>
<text x="374" y="261" font-size="51" fill="url(#tBl)" stroke="#2a559f" stroke-width="3">学习问答</text>
</g>
</g>
</svg>

<svg class="ov" width="928" height="5008" viewBox="0 0 928 5008"><path d="M465,826 V855" class="ln"/><path d="M460.2,855 L465,850.2 L469.8,855 L465,859.8 Z" fill="#1b3457"/><path d="M412,876 L537,876 L518,951 L393,951 Z" fill="#e8780f"/><path d="M465,951 V981" class="ln"/><path d="M460.2,981 L465,976.2 L469.8,981 L465,985.8 Z" fill="#1b3457"/><path d="M256,1106 H268" class="ln"/><path d="M285,1035 H275 Q268,1035 268,1042 V1099 Q268,1106 268,1106 Q268,1106 268,1113 V1170 Q268,1177 275,1177 H285" class="ln"/><path d="M280.2,1035 L285,1030.2 L289.8,1035 L285,1039.8 Z" fill="#1b3457"/><path d="M280.2,1177 L285,1172.2 L289.8,1177 L285,1181.8 Z" fill="#1b3457"/><path d="M280.2,1106 L285,1101.2 L289.8,1106 L285,1110.8 Z" fill="#1b3457"/><path d="M268,1106 H285" class="ln"/><path d="M535,1029 H541 Q548,1029 548,1036 V1097 Q548,1104 554,1104 Q548,1104 548,1111 V1169 Q548,1176 541,1176 H535" class="ln"/><path d="M530.2,1029 L535,1024.2 L539.8,1029 L535,1033.8 Z" fill="#1b3457"/><path d="M530.2,1176 L535,1171.2 L539.8,1176 L535,1180.8 Z" fill="#1b3457"/><path d="M458.5,1228 V1258" class="ln"/><path d="M453.7,1258 L458.5,1253.2 L463.3,1258 L458.5,1262.8 Z" fill="#1b3457"/><path d="M381,1277.5 L554.5,1277.5 L536,1353.5 L362,1353.5 Z" fill="#e8780f"/><path d="M458.5,1353.5 V1384" class="ln"/><path d="M453.7,1384 L458.5,1379.2 L463.3,1384 L458.5,1388.8 Z" fill="#1b3457"/><path d="M181,1512 H192" class="ln"/><path d="M210,1468 H199 Q192,1468 192,1475 V1505 Q192,1512 192,1512 Q192,1512 192,1519 V1549 Q192,1556 199,1556 H210" class="ln"/><path d="M205.2,1468 L210,1463.2 L214.8,1468 L210,1472.8 Z" fill="#1b3457"/><path d="M205.2,1556 L210,1551.2 L214.8,1556 L210,1560.8 Z" fill="#1b3457"/><path d="M296,1468 H296 Q303,1468 303,1475 V1510 Q303,1517 310,1517 Q303,1517 303,1524 V1551 Q303,1558 296,1558 H296" class="ln"/><path d="M361.5,1512 H374" class="ln"/><path d="M390.5,1457 H381 Q374,1457 374,1464 V1505 Q374,1512 374,1512 Q374,1512 374,1519 V1561 Q374,1568 381,1568 H390.5" class="ln"/><path d="M385.7,1457 L390.5,1452.2 L395.3,1457 L390.5,1461.8 Z" fill="#1b3457"/><path d="M385.7,1568 L390.5,1563.2 L395.3,1568 L390.5,1572.8 Z" fill="#1b3457"/><path d="M385.7,1512 L390.5,1507.2 L395.3,1512 L390.5,1516.8 Z" fill="#1b3457"/><path d="M374,1512 H390.5" class="ln"/><path d="M481,1452 H481 Q488,1452 488,1459 V1505 Q488,1512 494,1512 Q488,1512 488,1519 V1565 Q488,1572 481,1572 H481" class="ln"/><path d="M550,1511 H574" class="ln"/><path d="M580,1511 L571,1506.5 L571,1515.5 Z" fill="#1b3457"/><path d="M679,1456 H675 Q668,1456 668,1463 V1504 Q668,1511 662,1511 Q668,1511 668,1518 V1557 Q668,1564 675,1564 H679" class="ln"/><path d="M674.2,1456 L679,1451.2 L683.8,1456 L679,1460.8 Z" fill="#1b3457"/><path d="M674.2,1564 L679,1559.2 L683.8,1564 L679,1568.8 Z" fill="#1b3457"/><path d="M361,1795 H467.5 V1775 L546,1842 L467.5,1909 V1890 H361 Z" fill="#c7d0d8"/><path d="M465,2069 V2099" class="ln"/><path d="M460.2,2099 L465,2094.2 L469.8,2099 L465,2103.8 Z" fill="#1b3457"/><path d="M386,2192 H401" class="ln"/><path d="M417,2164.5 H408 Q401,2164.5 401,2171.5 V2185 Q401,2192 401,2192 Q401,2192 401,2199 V2211.5 Q401,2218.5 408,2218.5 H417" class="ln"/><path d="M412.2,2164.5 L417,2159.7 L421.8,2164.5 L417,2169.3 Z" fill="#1b3457"/><path d="M412.2,2218.5 L417,2213.7 L421.8,2218.5 L417,2223.3 Z" fill="#1b3457"/><path d="M656,2161 H657 Q664,2161 664,2168 V2185 Q664,2192 673,2192 Q664,2192 664,2199 V2216 Q664,2223 657,2223 H656" class="ln"/><path d="M462,2280 V2314" class="ln"/><path d="M457.2,2314 L462,2309.2 L466.8,2314 L462,2318.8 Z" fill="#1b3457"/><path d="M164,2384 H156 Q149,2384 149,2391 V2485 Q149,2492 141.7,2492 Q149,2492 149,2499 V2592 Q149,2599 156,2599 H164" class="ln"/><path d="M159.2,2384 L164,2379.2 L168.8,2384 L164,2388.8 Z" fill="#1b3457"/><path d="M159.2,2599 L164,2594.2 L168.8,2599 L164,2603.8 Z" fill="#1b3457"/><path d="M395,2389 H395 Q402,2389 402,2396 V2494 Q402,2501 409.6,2501 Q402,2501 402,2508 V2607 Q402,2614 395,2614 H395" class="ln"/><path d="M492,2503.6 H531.5" class="ln"/><path d="M537.5,2503.6 L528.5,2499.1 L528.5,2508.1 Z" fill="#1b3457"/><path d="M613.6,2434.5 H610 Q603,2434.5 603,2441.5 V2496.6 Q603,2503.6 597,2503.6 Q603,2503.6 603,2510.6 V2564.8 Q603,2571.8 610,2571.8 H613.6" class="ln"/><path d="M608.8000000000001,2434.5 L613.6,2429.7 L618.4,2434.5 L613.6,2439.3 Z" fill="#1b3457"/><path d="M608.8000000000001,2571.8 L613.6,2567.0 L618.4,2571.8 L613.6,2576.6000000000004 Z" fill="#1b3457"/><path d="M533,2906 H560" class="ln"/><path d="M566,2906 L557,2901.5 L557,2910.5 Z" fill="#1b3457"/><path d="M459.6,2956 V2988" class="ln"/><path d="M454.8,2988 L459.6,2983.2 L464.40000000000003,2988 L459.6,2992.8 Z" fill="#1b3457"/><path d="M459.6,3052.6 V3083" class="ln"/><path d="M454.8,3083 L459.6,3078.2 L464.40000000000003,3083 L459.6,3087.8 Z" fill="#1b3457"/><path d="M237,3163 H238 Q245,3163 245,3170 V3240 Q245,3247 253,3247 Q245,3247 245,3254 V3324 Q245,3331 238,3331 H237" class="ln"/><path d="M232.2,3163 L237,3158.2 L241.8,3163 L237,3167.8 Z" fill="#1b3457"/><path d="M232.2,3331 L237,3326.2 L241.8,3331 L237,3335.8 Z" fill="#1b3457"/><path d="M335.3,3247.6 H351" class="ln"/><path d="M357,3247.6 L348,3243.1 L348,3252.1 Z" fill="#1b3457"/><path d="M426,3246.7 H442.5" class="ln"/><path d="M448.5,3246.7 L439.5,3242.2 L439.5,3251.2 Z" fill="#1b3457"/><path d="M517.6,3246.7 H537" class="ln"/><path d="M543,3246.7 L534,3242.2 L534,3251.2 Z" fill="#1b3457"/><path d="M617,3160 H614.6 Q607.6,3160 607.6,3167 V3239.7 Q607.6,3246.7 600.7,3246.7 Q607.6,3246.7 607.6,3253.7 V3321 Q607.6,3328 614.6,3328 H617" class="ln"/><path d="M612.2,3160 L617,3155.2 L621.8,3160 L617,3164.8 Z" fill="#1b3457"/><path d="M612.2,3328 L617,3323.2 L621.8,3328 L617,3332.8 Z" fill="#1b3457"/><path d="M725.7,3153 H729.7 Q736.7,3153 736.7,3160 V3246.5 Q736.7,3253.5 743.3,3253.5 Q736.7,3253.5 736.7,3260.5 V3347 Q736.7,3354 729.7,3354 H725.7" class="ln"/><path d="M720.9000000000001,3153 L725.7,3148.2 L730.5,3153 L725.7,3157.8 Z" fill="#1b3457"/><path d="M720.9000000000001,3354 L725.7,3349.2 L730.5,3354 L725.7,3358.8 Z" fill="#1b3457"/><path d="M300,3580.6 H501 V3545 L600.7,3625.5 L501,3706.7 V3668 H300 Z" fill="#c7d0d8"/><path d="M465,3737 V3766" class="ln"/><path d="M460.2,3766 L465,3761.2 L469.8,3766 L465,3770.8 Z" fill="#1b3457"/><path d="M465,3831 V3843" class="ln"/><path d="M465,3843 H302 Q294,3843 294,3851 V3858" class="ln"/><path d="M465,3843 H629 Q637,3843 637,3851 V3858" class="ln"/><path d="M289.2,3861 L294,3856.2 L298.8,3861 L294,3865.8 Z" fill="#1b3457"/><path d="M632.2,3861 L637,3856.2 L641.8,3861 L637,3865.8 Z" fill="#1b3457"/><path d="M294.6,3959.5 V3990" class="ln"/><path d="M289.8,3990 L294.6,3985.2 L299.40000000000003,3990 L294.6,3994.8 Z" fill="#1b3457"/><path d="M637,3959.5 V3990" class="ln"/><path d="M632.2,3990 L637,3985.2 L641.8,3990 L637,3994.8 Z" fill="#1b3457"/><path d="M294.6,4084.5 V4114" class="ln"/><path d="M289.8,4114 L294.6,4109.2 L299.40000000000003,4114 L294.6,4118.8 Z" fill="#1b3457"/><path d="M637,4084.5 V4114" class="ln"/><path d="M632.2,4114 L637,4109.2 L641.8,4114 L637,4118.8 Z" fill="#1b3457"/><path d="M294.6,4239 V4269" class="ln"/><path d="M289.8,4269 L294.6,4264.2 L299.40000000000003,4269 L294.6,4273.8 Z" fill="#1b3457"/><path d="M637,4239 V4269" class="ln"/><path d="M632.2,4269 L637,4264.2 L641.8,4269 L637,4273.8 Z" fill="#1b3457"/><path d="M294.6,4398 V4425" class="ln"/><path d="M289.8,4425 L294.6,4420.2 L299.40000000000003,4425 L294.6,4429.8 Z" fill="#1b3457"/><path d="M637,4398 V4425" class="ln"/><path d="M632.2,4425 L637,4420.2 L641.8,4425 L637,4429.8 Z" fill="#1b3457"/></svg>
<div class="hdr">党员被<span style="color:#f6dcbc">给予政务处分</span>后如何追究其党纪责任？</div><div class="ob2" style="left:299px;top:748px;width:343px;height:78px"></div><div class="ob b" style="left:294px;top:743px;width:342px;height:77px"><div>《中国共产党纪律处分条例》<br>第三十五条第二款规定</div></div><div class="big" style="left:393px;top:876px;width:144px;height:75px">党员</div><div class="b nv" style="left:137.5px;top:1080px;width:119px;height:52px;"><div>依法受到</div></div><div class="b ol" style="left:306.5px;top:1013px;width:206.5px;height:45px;"><div>政务处分</div></div><div class="b ol" style="left:306.5px;top:1068px;width:206.5px;height:76px;"><div>任免机关（单位）<br>给予的处分</div></div><div class="b ol" style="left:306.5px;top:1154px;width:206.5px;height:45px;"><div>行政处罚</div></div><div class="b gr" style="left:567px;top:1075px;width:238px;height:54px;"><div>应当追究<span class="o">党纪责任</span>的</div></div><div class="big" style="left:362px;top:1277.5px;width:192px;height:76px;font-size:47px">党组织</div><div class="b nv" style="left:110px;top:1441px;width:71px;height:144px;"><div>可以<br>根据<br>生效<br>的</div></div><div class="b ol" style="left:231.5px;top:1448.5px;width:61.5px;height:43px;"><div>处分</div></div><div class="b ol" style="left:231.5px;top:1503px;width:61.5px;height:106px;"><div>行政<br>处罚<br>决定</div></div><div class="b gr" style="left:315.5px;top:1457px;width:46px;height:113px;"><div>认<br>定<br>的</div></div><div class="b ol" style="left:412px;top:1436px;width:62.5px;height:44px;"><div>事实</div></div><div class="b ol" style="left:412px;top:1491.5px;width:62.5px;height:43.5px;"><div>性质</div></div><div class="b ol" style="left:412px;top:1547px;width:62.5px;height:43.5px;"><div>情节</div></div><div class="b gr" style="left:505px;top:1438.5px;width:45px;height:145px;"><div>经<br>核<br>实<br>后</div></div><div class="b nv" style="left:580px;top:1438.5px;width:69px;height:145px;"><div>依照<br>规定<br>给予<br>相应</div></div><div class="b ol" style="left:700.5px;top:1436px;width:111px;height:44px;"><div><span class="o">党纪处分</span></div></div><div class="b gr" style="left:721.5px;top:1484.5px;width:70px;height:51px;"><div>或者</div></div><div class="b ol" style="left:700.5px;top:1542px;width:111px;height:45px;"><div><span class="o">组织处理</span></div></div><div class="b tag" style="left:429px;top:1677px;width:74.5px;height:57px;"><div>其中</div></div><div class="b nv" style="left:121.5px;top:1799px;width:190px;height:84.5px;"><div>党员依法受到<br><span class="p">撤职以上处分</span>的</div></div><div class="b" style="left:361px;top:1795px;width:148px;height:95px;line-height:30px;color:#1c2f50"><div>应当依照<br>本条例规定</div></div><div class="b ol" style="left:596.5px;top:1802px;width:208.5px;height:79px;"><div>给予<span class="o">撤销党内职务</span><br><span class="o">以上处分</span></div></div><div class="ob2" style="left:164px;top:2014px;width:616px;height:55px"></div><div class="ob b" style="left:158.5px;top:2008.5px;width:615.5px;height:56px"><div>《中国共产党处分违纪党员批准权限和程序规定》明确</div></div><div class="b nv" style="left:127.3px;top:2167px;width:259.5px;height:52px;"><div><span class="p">政务处分</span>的批准权限与</div></div><div class="b ol" style="left:437.7px;top:2143px;width:210px;height:44.5px;"><div><span class="o">党纪处分</span>批准权限</div></div><div class="b ol" style="left:437.7px;top:2198px;width:210px;height:45px;"><div><span class="o">干部人事</span>管理权限</div></div><div class="b gr" style="left:684.4px;top:2164px;width:115.6px;height:55.6px;"><div>基本对应</div></div><div class="b nv" style="left:86.6px;top:2467px;width:47.4px;height:51px;"><div>故</div></div><div class="b ol" style="left:183px;top:2347.5px;width:208px;height:76px;"><div>各级纪委监委<br>及其派出机构</div></div><div class="b gr" style="left:245px;top:2431.7px;width:70px;height:48.3px;"><div>或者</div></div><div class="b ol" style="left:183px;top:2486px;width:208px;height:228px;"><div>与该单位党的<br>纪律检查机构<br>合署办公的<br>派驻监察机构<br>（含派驻监察专员<br>并设立的<br>监察专员办公室）</div></div><div class="b gr" style="left:423px;top:2399px;width:69px;height:207px;"><div>有权<br>作出<br><span class="o">政务<br>处分<br>决定</span><br>的</div></div><div class="b nv" style="left:537.5px;top:2416px;width:46px;height:175px;"><div>必<br>然<br>也<br>有<br>权</div></div><div class="b ol" style="left:633.8px;top:2412.7px;width:207px;height:44.7px;"><div>作出<span class="o">党纪处分决定</span></div></div><div class="b gr" style="left:704.6px;top:2460.6px;width:68.7px;height:51.4px;"><div>或者</div></div><div class="b ol" style="left:633.8px;top:2519px;width:207px;height:105px;"><div>由与其合署办公的<br>党的纪律检查机构<br>作出<span class="o">党纪处分决定</span></div></div><div class="b tag" style="left:427.5px;top:2780.5px;width:72.5px;height:55px;"><div>因此</div></div><div class="b nv" style="left:118.5px;top:2879.4px;width:414.5px;height:53.5px;"><div>党员依法被监察机关给予<span class="p">政务处分</span>后</div></div><div class="b gr" style="left:584px;top:2885.5px;width:228px;height:41.5px;"><div>再追究其<span class="o">党纪责任</span>的</div></div><div class="b tag" style="left:344px;top:3010.5px;width:230.7px;height:42px;"><div>主要适用于以下情形</div></div><div class="b ol" style="left:89.2px;top:3109.4px;width:134.8px;height:106px;"><div>各级<br>纪委监委<br><span class="o">双派驻机构</span></div></div><div class="b gr" style="left:123px;top:3220.5px;width:68.6px;height:51.5px;"><div>以及</div></div><div class="b ol" style="left:89.2px;top:3276.8px;width:134.8px;height:106.2px;"><div>设党组的<br>中管企业<br><span class="o">纪检监察组</span></div></div><div class="b nv" style="left:266px;top:3174.7px;width:69.3px;height:144.3px;"><div>给予<br><span class="p">政务<br>处分</span><br>后</div></div><div class="b gr" style="left:357px;top:3142.4px;width:69px;height:206.6px;"><div>因<span class="o">不</span><br><span class="o">具有</span><br>党纪<br>处分<br>批准<br>权限</div></div><div class="b gr" style="left:448.5px;top:3159px;width:69px;height:174px;"><div><span class="o">不能</span><br>作出<br>党纪<br>处分<br>决定</div></div><div class="b nv" style="left:543px;top:3173px;width:46px;height:143.8px;"><div>从<br>而<br>通<br>报</div></div><div class="b ol" style="left:631px;top:3124px;width:88.6px;height:76.6px;"><div><span class="o">驻在<br>部门</span></div></div><div class="b gr" style="left:631px;top:3210.7px;width:58.4px;height:40.3px;"><div>或者</div></div><div class="b ol" style="left:631px;top:3262px;width:88.6px;height:139px;"><div><span class="o">所在<br>中管<br>企业<br>党组织</span></div></div><div class="b gr" style="left:756px;top:3165.4px;width:85.4px;height:176px;"><div>依规<br>依纪<br>给予<br><span class="o">党纪<br>处分</span></div></div><div class="b tag" style="left:427px;top:3469.4px;width:64px;height:44.2px;"><div>其中</div></div><div class="b nv" style="left:95.2px;top:3580.8px;width:189px;height:81.6px;"><div>党员依法受到<br><span class="p">撤职以上</span>处分的</div></div><div class="b" style="left:300px;top:3585px;width:270px;height:87.4px;line-height:34px;color:#1c2f50"><div>应当依照《中国共产党<br>纪律处分条例》规定</div></div><div class="b ol" style="left:620.7px;top:3586px;width:218px;height:85.7px;"><div>给予其<span class="o">撤销党内</span><br><span class="o">职务以上党纪处分</span></div></div><div class="b tag" style="left:399px;top:3786px;width:134px;height:45.5px;"><div>对此种情形</div></div><div class="b dl" style="left:127px;top:3881.5px;width:333.5px;height:78px;"><div>如拟作出的<span class="o">党纪处分决定</span><br>所依据的违纪事实</div></div><div class="b dl" style="left:471.9px;top:3881.5px;width:333.5px;height:78px;"><div>如拟作出的<span class="o">党纪处分决定</span><br>所依据的违纪事实</div></div><div class="b nv" style="left:127px;top:4009px;width:333.5px;height:75.5px;"><div>均系<span class="p">已作出的政务处分决定</span><br>所依据的违法事实的</div></div><div class="b nv" style="left:471.9px;top:4009px;width:333.5px;height:75.5px;"><div><span class="p">超出已作出的政务处分决定</span><br>所依据的违法事实的</div></div><div class="b gr" style="left:127px;top:4135px;width:333.5px;height:104px;"><div>鉴于监察机关在作出政务处分<br>决定前已经履行<span class="o">违法事实材料</span><br><span class="o">与被调查人见面核对程序</span></div></div><div class="b gr" style="left:471.9px;top:4135px;width:333.5px;height:104px;"><div>党组织<br>应当办理<br><span class="o">立案审查手续</span></div></div><div class="b ol" style="left:127px;top:4289px;width:333.5px;height:109px;"><div>故党组织可以<span class="o">不再办理立案<br>审查手续、不再形成违纪事实<br>材料与被审查党员见面核对</span></div></div><div class="b ol" style="left:471.9px;top:4289px;width:333.5px;height:109px;"><div>并<span class="o">对超出部分的违纪事实<br>形成违纪事实材料<br>与被审查党员见面核对</span></div></div><div class="b dl" style="left:127px;top:4449.5px;width:333.5px;height:76.5px;"><div>直接依照规定履行处分审批<br>程序后作出<span class="o">党纪处分决定</span>即可</div></div><div class="b dl" style="left:471.9px;top:4449.5px;width:333.5px;height:76.5px;"><div>之后再依照规定履行处分审批<br>程序后作出<span class="o">党纪处分决定</span></div></div><div class="src">内容依据：《〈中国共产党纪律处分条例〉百问百答》（中国方正出版社）</div><svg class="qr" style="left:169px;top:4686px" width="153" height="153" viewBox="0 0 153 153"><rect width="153" height="153" fill="#f1f5f5"/><path d="M0.00,0.00h28.95v4.14h-28.95zM33.08,0.00h20.68v4.14h-20.68zM57.89,0.00h8.27v4.14h-8.27zM78.57,0.00h4.14v4.14h-4.14zM86.84,0.00h4.14v4.14h-4.14zM95.11,0.00h16.54v4.14h-16.54zM115.78,0.00h4.14v4.14h-4.14zM124.05,0.00h28.95v4.14h-28.95zM0.00,4.14h4.14v4.14h-4.14zM24.81,4.14h4.14v4.14h-4.14zM49.62,4.14h4.14v4.14h-4.14zM57.89,4.14h8.27v4.14h-8.27zM70.30,4.14h12.41v4.14h-12.41zM99.24,4.14h4.14v4.14h-4.14zM115.78,4.14h4.14v4.14h-4.14zM124.05,4.14h4.14v4.14h-4.14zM148.86,4.14h4.14v4.14h-4.14zM0.00,8.27h4.14v4.14h-4.14zM8.27,8.27h12.41v4.14h-12.41zM24.81,8.27h4.14v4.14h-4.14zM33.08,8.27h4.14v4.14h-4.14zM41.35,8.27h12.41v4.14h-12.41zM57.89,8.27h8.27v4.14h-8.27zM82.70,8.27h12.41v4.14h-12.41zM103.38,8.27h16.54v4.14h-16.54zM124.05,8.27h4.14v4.14h-4.14zM132.32,8.27h12.41v4.14h-12.41zM148.86,8.27h4.14v4.14h-4.14zM0.00,12.41h4.14v4.14h-4.14zM8.27,12.41h12.41v4.14h-12.41zM24.81,12.41h4.14v4.14h-4.14zM37.22,12.41h12.41v4.14h-12.41zM53.76,12.41h45.49v4.14h-45.49zM107.51,12.41h12.41v4.14h-12.41zM124.05,12.41h4.14v4.14h-4.14zM132.32,12.41h12.41v4.14h-12.41zM148.86,12.41h4.14v4.14h-4.14zM0.00,16.54h4.14v4.14h-4.14zM8.27,16.54h12.41v4.14h-12.41zM24.81,16.54h4.14v4.14h-4.14zM37.22,16.54h4.14v4.14h-4.14zM57.89,16.54h12.41v4.14h-12.41zM82.70,16.54h8.27v4.14h-8.27zM115.78,16.54h4.14v4.14h-4.14zM124.05,16.54h4.14v4.14h-4.14zM132.32,16.54h12.41v4.14h-12.41zM148.86,16.54h4.14v4.14h-4.14zM0.00,20.68h4.14v4.14h-4.14zM24.81,20.68h4.14v4.14h-4.14zM33.08,20.68h4.14v4.14h-4.14zM49.62,20.68h4.14v4.14h-4.14zM62.03,20.68h4.14v4.14h-4.14zM82.70,20.68h8.27v4.14h-8.27zM95.11,20.68h4.14v4.14h-4.14zM107.51,20.68h8.27v4.14h-8.27zM124.05,20.68h4.14v4.14h-4.14zM148.86,20.68h4.14v4.14h-4.14zM0.00,24.81h28.95v4.14h-28.95zM41.35,24.81h4.14v4.14h-4.14zM53.76,24.81h16.54v4.14h-16.54zM74.43,24.81h12.41v4.14h-12.41zM90.97,24.81h8.27v4.14h-8.27zM107.51,24.81h4.14v4.14h-4.14zM124.05,24.81h28.95v4.14h-28.95zM37.22,28.95h8.27v4.14h-8.27zM66.16,28.95h4.14v4.14h-4.14zM86.84,28.95h4.14v4.14h-4.14zM95.11,28.95h4.14v4.14h-4.14zM115.78,28.95h4.14v4.14h-4.14zM0.00,33.08h4.14v4.14h-4.14zM16.54,33.08h4.14v4.14h-4.14zM28.95,33.08h4.14v4.14h-4.14zM41.35,33.08h4.14v4.14h-4.14zM49.62,33.08h8.27v4.14h-8.27zM66.16,33.08h8.27v4.14h-8.27zM78.57,33.08h12.41v4.14h-12.41zM95.11,33.08h4.14v4.14h-4.14zM103.38,33.08h12.41v4.14h-12.41zM124.05,33.08h4.14v4.14h-4.14zM140.59,33.08h12.41v4.14h-12.41zM4.14,37.22h12.41v4.14h-12.41zM24.81,37.22h8.27v4.14h-8.27zM45.49,37.22h8.27v4.14h-8.27zM57.89,37.22h8.27v4.14h-8.27zM78.57,37.22h4.14v4.14h-4.14zM86.84,37.22h4.14v4.14h-4.14zM95.11,37.22h8.27v4.14h-8.27zM111.65,37.22h8.27v4.14h-8.27zM124.05,37.22h28.95v4.14h-28.95zM4.14,41.35h4.14v4.14h-4.14zM12.41,41.35h20.68v4.14h-20.68zM41.35,41.35h8.27v4.14h-8.27zM53.76,41.35h4.14v4.14h-4.14zM62.03,41.35h8.27v4.14h-8.27zM74.43,41.35h4.14v4.14h-4.14zM90.97,41.35h4.14v4.14h-4.14zM107.51,41.35h20.68v4.14h-20.68zM132.32,41.35h12.41v4.14h-12.41zM4.14,45.49h28.95v4.14h-28.95zM45.49,45.49h4.14v4.14h-4.14zM53.76,45.49h20.68v4.14h-20.68zM78.57,45.49h4.14v4.14h-4.14zM86.84,45.49h33.08v4.14h-33.08zM144.73,45.49h8.27v4.14h-8.27zM4.14,49.62h4.14v4.14h-4.14zM16.54,49.62h4.14v4.14h-4.14zM41.35,49.62h4.14v4.14h-4.14zM82.70,49.62h20.68v4.14h-20.68zM124.05,49.62h8.27v4.14h-8.27zM0.00,53.76h4.14v4.14h-4.14zM8.27,53.76h12.41v4.14h-12.41zM24.81,53.76h4.14v4.14h-4.14zM37.22,53.76h12.41v4.14h-12.41zM66.16,53.76h12.41v4.14h-12.41zM82.70,53.76h4.14v4.14h-4.14zM90.97,53.76h12.41v4.14h-12.41zM115.78,53.76h4.14v4.14h-4.14zM124.05,53.76h12.41v4.14h-12.41zM140.59,53.76h4.14v4.14h-4.14zM0.00,57.89h8.27v4.14h-8.27zM16.54,57.89h12.41v4.14h-12.41zM33.08,57.89h4.14v4.14h-4.14zM41.35,57.89h4.14v4.14h-4.14zM53.76,57.89h4.14v4.14h-4.14zM74.43,57.89h4.14v4.14h-4.14zM82.70,57.89h37.22v4.14h-37.22zM124.05,57.89h4.14v4.14h-4.14zM136.46,57.89h4.14v4.14h-4.14zM0.00,62.03h12.41v4.14h-12.41zM20.68,62.03h20.68v4.14h-20.68zM45.49,62.03h4.14v4.14h-4.14zM53.76,62.03h8.27v4.14h-8.27zM66.16,62.03h8.27v4.14h-8.27zM107.51,62.03h4.14v4.14h-4.14zM115.78,62.03h4.14v4.14h-4.14zM128.19,62.03h8.27v4.14h-8.27zM140.59,62.03h12.41v4.14h-12.41zM0.00,66.16h4.14v4.14h-4.14zM12.41,66.16h4.14v4.14h-4.14zM20.68,66.16h4.14v4.14h-4.14zM28.95,66.16h16.54v4.14h-16.54zM49.62,66.16h8.27v4.14h-8.27zM66.16,66.16h33.08v4.14h-33.08zM111.65,66.16h8.27v4.14h-8.27zM124.05,66.16h16.54v4.14h-16.54zM144.73,66.16h4.14v4.14h-4.14zM8.27,70.30h20.68v4.14h-20.68zM41.35,70.30h8.27v4.14h-8.27zM57.89,70.30h4.14v4.14h-4.14zM66.16,70.30h8.27v4.14h-8.27zM90.97,70.30h12.41v4.14h-12.41zM128.19,70.30h4.14v4.14h-4.14zM136.46,70.30h4.14v4.14h-4.14zM144.73,70.30h4.14v4.14h-4.14zM4.14,74.43h12.41v4.14h-12.41zM24.81,74.43h8.27v4.14h-8.27zM41.35,74.43h8.27v4.14h-8.27zM53.76,74.43h12.41v4.14h-12.41zM78.57,74.43h12.41v4.14h-12.41zM99.24,74.43h12.41v4.14h-12.41zM115.78,74.43h8.27v4.14h-8.27zM132.32,74.43h16.54v4.14h-16.54zM0.00,78.57h4.14v4.14h-4.14zM16.54,78.57h4.14v4.14h-4.14zM24.81,78.57h4.14v4.14h-4.14zM33.08,78.57h8.27v4.14h-8.27zM45.49,78.57h4.14v4.14h-4.14zM53.76,78.57h16.54v4.14h-16.54zM78.57,78.57h12.41v4.14h-12.41zM95.11,78.57h16.54v4.14h-16.54zM132.32,78.57h8.27v4.14h-8.27zM148.86,78.57h4.14v4.14h-4.14zM4.14,82.70h28.95v4.14h-28.95zM37.22,82.70h4.14v4.14h-4.14zM45.49,82.70h8.27v4.14h-8.27zM62.03,82.70h16.54v4.14h-16.54zM82.70,82.70h8.27v4.14h-8.27zM95.11,82.70h8.27v4.14h-8.27zM111.65,82.70h12.41v4.14h-12.41zM128.19,82.70h4.14v4.14h-4.14zM140.59,82.70h8.27v4.14h-8.27zM4.14,86.84h4.14v4.14h-4.14zM12.41,86.84h12.41v4.14h-12.41zM41.35,86.84h12.41v4.14h-12.41zM62.03,86.84h16.54v4.14h-16.54zM82.70,86.84h4.14v4.14h-4.14zM107.51,86.84h12.41v4.14h-12.41zM124.05,86.84h8.27v4.14h-8.27zM136.46,86.84h12.41v4.14h-12.41zM0.00,90.97h4.14v4.14h-4.14zM16.54,90.97h16.54v4.14h-16.54zM37.22,90.97h12.41v4.14h-12.41zM70.30,90.97h4.14v4.14h-4.14zM78.57,90.97h4.14v4.14h-4.14zM86.84,90.97h4.14v4.14h-4.14zM95.11,90.97h16.54v4.14h-16.54zM119.92,90.97h8.27v4.14h-8.27zM136.46,90.97h4.14v4.14h-4.14zM0.00,95.11h8.27v4.14h-8.27zM20.68,95.11h16.54v4.14h-16.54zM49.62,95.11h4.14v4.14h-4.14zM57.89,95.11h8.27v4.14h-8.27zM74.43,95.11h4.14v4.14h-4.14zM86.84,95.11h20.68v4.14h-20.68zM115.78,95.11h12.41v4.14h-12.41zM132.32,95.11h12.41v4.14h-12.41zM0.00,99.24h12.41v4.14h-12.41zM20.68,99.24h8.27v4.14h-8.27zM33.08,99.24h12.41v4.14h-12.41zM49.62,99.24h4.14v4.14h-4.14zM57.89,99.24h8.27v4.14h-8.27zM74.43,99.24h8.27v4.14h-8.27zM86.84,99.24h8.27v4.14h-8.27zM99.24,99.24h4.14v4.14h-4.14zM107.51,99.24h4.14v4.14h-4.14zM115.78,99.24h12.41v4.14h-12.41zM140.59,99.24h4.14v4.14h-4.14zM148.86,99.24h4.14v4.14h-4.14zM4.14,103.38h8.27v4.14h-8.27zM20.68,103.38h8.27v4.14h-8.27zM37.22,103.38h8.27v4.14h-8.27zM53.76,103.38h8.27v4.14h-8.27zM66.16,103.38h4.14v4.14h-4.14zM82.70,103.38h4.14v4.14h-4.14zM90.97,103.38h8.27v4.14h-8.27zM107.51,103.38h12.41v4.14h-12.41zM124.05,103.38h12.41v4.14h-12.41zM144.73,103.38h4.14v4.14h-4.14zM4.14,107.51h4.14v4.14h-4.14zM12.41,107.51h4.14v4.14h-4.14zM28.95,107.51h8.27v4.14h-8.27zM41.35,107.51h4.14v4.14h-4.14zM49.62,107.51h12.41v4.14h-12.41zM66.16,107.51h8.27v4.14h-8.27zM82.70,107.51h33.08v4.14h-33.08zM119.92,107.51h4.14v4.14h-4.14zM128.19,107.51h4.14v4.14h-4.14zM144.73,107.51h4.14v4.14h-4.14zM0.00,111.65h4.14v4.14h-4.14zM8.27,111.65h4.14v4.14h-4.14zM28.95,111.65h4.14v4.14h-4.14zM37.22,111.65h4.14v4.14h-4.14zM49.62,111.65h4.14v4.14h-4.14zM62.03,111.65h8.27v4.14h-8.27zM74.43,111.65h4.14v4.14h-4.14zM82.70,111.65h4.14v4.14h-4.14zM90.97,111.65h4.14v4.14h-4.14zM103.38,111.65h8.27v4.14h-8.27zM115.78,111.65h16.54v4.14h-16.54zM144.73,111.65h4.14v4.14h-4.14zM0.00,115.78h4.14v4.14h-4.14zM12.41,115.78h4.14v4.14h-4.14zM33.08,115.78h4.14v4.14h-4.14zM45.49,115.78h4.14v4.14h-4.14zM53.76,115.78h4.14v4.14h-4.14zM66.16,115.78h4.14v4.14h-4.14zM74.43,115.78h8.27v4.14h-8.27zM86.84,115.78h4.14v4.14h-4.14zM95.11,115.78h4.14v4.14h-4.14zM115.78,115.78h16.54v4.14h-16.54zM136.46,115.78h4.14v4.14h-4.14zM148.86,115.78h4.14v4.14h-4.14zM41.35,119.92h4.14v4.14h-4.14zM49.62,119.92h8.27v4.14h-8.27zM62.03,119.92h12.41v4.14h-12.41zM86.84,119.92h12.41v4.14h-12.41zM107.51,119.92h4.14v4.14h-4.14zM115.78,119.92h4.14v4.14h-4.14zM128.19,119.92h4.14v4.14h-4.14zM136.46,119.92h4.14v4.14h-4.14zM144.73,119.92h8.27v4.14h-8.27zM0.00,124.05h28.95v4.14h-28.95zM45.49,124.05h16.54v4.14h-16.54zM74.43,124.05h4.14v4.14h-4.14zM86.84,124.05h4.14v4.14h-4.14zM95.11,124.05h24.81v4.14h-24.81zM136.46,124.05h4.14v4.14h-4.14zM144.73,124.05h4.14v4.14h-4.14zM0.00,128.19h4.14v4.14h-4.14zM24.81,128.19h4.14v4.14h-4.14zM33.08,128.19h4.14v4.14h-4.14zM49.62,128.19h4.14v4.14h-4.14zM57.89,128.19h8.27v4.14h-8.27zM86.84,128.19h4.14v4.14h-4.14zM103.38,128.19h4.14v4.14h-4.14zM115.78,128.19h8.27v4.14h-8.27zM128.19,128.19h4.14v4.14h-4.14zM136.46,128.19h12.41v4.14h-12.41zM0.00,132.32h4.14v4.14h-4.14zM8.27,132.32h12.41v4.14h-12.41zM24.81,132.32h4.14v4.14h-4.14zM33.08,132.32h4.14v4.14h-4.14zM41.35,132.32h4.14v4.14h-4.14zM57.89,132.32h4.14v4.14h-4.14zM74.43,132.32h16.54v4.14h-16.54zM111.65,132.32h12.41v4.14h-12.41zM128.19,132.32h24.81v4.14h-24.81zM0.00,136.46h4.14v4.14h-4.14zM8.27,136.46h12.41v4.14h-12.41zM24.81,136.46h4.14v4.14h-4.14zM33.08,136.46h8.27v4.14h-8.27zM45.49,136.46h4.14v4.14h-4.14zM57.89,136.46h4.14v4.14h-4.14zM66.16,136.46h4.14v4.14h-4.14zM74.43,136.46h12.41v4.14h-12.41zM95.11,136.46h12.41v4.14h-12.41zM111.65,136.46h12.41v4.14h-12.41zM128.19,136.46h4.14v4.14h-4.14zM136.46,136.46h8.27v4.14h-8.27zM148.86,136.46h4.14v4.14h-4.14zM0.00,140.59h4.14v4.14h-4.14zM8.27,140.59h12.41v4.14h-12.41zM24.81,140.59h4.14v4.14h-4.14zM33.08,140.59h8.27v4.14h-8.27zM45.49,140.59h4.14v4.14h-4.14zM53.76,140.59h12.41v4.14h-12.41zM74.43,140.59h4.14v4.14h-4.14zM82.70,140.59h8.27v4.14h-8.27zM107.51,140.59h12.41v4.14h-12.41zM132.32,140.59h8.27v4.14h-8.27zM148.86,140.59h4.14v4.14h-4.14zM0.00,144.73h4.14v4.14h-4.14zM24.81,144.73h4.14v4.14h-4.14zM33.08,144.73h12.41v4.14h-12.41zM49.62,144.73h12.41v4.14h-12.41zM70.30,144.73h4.14v4.14h-4.14zM78.57,144.73h8.27v4.14h-8.27zM99.24,144.73h8.27v4.14h-8.27zM111.65,144.73h20.68v4.14h-20.68zM148.86,144.73h4.14v4.14h-4.14zM0.00,148.86h28.95v4.14h-28.95zM33.08,148.86h8.27v4.14h-8.27zM70.30,148.86h8.27v4.14h-8.27zM82.70,148.86h8.27v4.14h-8.27zM103.38,148.86h12.41v4.14h-12.41zM119.92,148.86h4.14v4.14h-4.14zM132.32,148.86h4.14v4.14h-4.14zM144.73,148.86h8.27v4.14h-8.27z" fill="#0a0a0a"/><rect x="55.5" y="55.5" width="42" height="42" fill="#fff"/><rect x="57.5" y="57.5" width="38" height="38" rx="5" fill="#d7161b"/><text x="76.5" y="73.5" font-size="7.5" fill="#fff" text-anchor="middle" font-family="Liberation Serif, serif">中央纪委</text><text x="76.5" y="83.5" font-size="7.5" fill="#fff" text-anchor="middle" font-family="Liberation Serif, serif">国家监委</text></svg><svg class="qr" style="left:604.7px;top:4686px" width="153" height="153" viewBox="0 0 153 153"><rect width="153" height="153" fill="#f1f5f5"/><path d="M0.00,0.00h28.95v4.14h-28.95zM41.35,0.00h12.41v4.14h-12.41zM62.03,0.00h4.14v4.14h-4.14zM82.70,0.00h8.27v4.14h-8.27zM95.11,0.00h24.81v4.14h-24.81zM124.05,0.00h28.95v4.14h-28.95zM0.00,4.14h4.14v4.14h-4.14zM24.81,4.14h4.14v4.14h-4.14zM33.08,4.14h4.14v4.14h-4.14zM41.35,4.14h4.14v4.14h-4.14zM53.76,4.14h8.27v4.14h-8.27zM66.16,4.14h4.14v4.14h-4.14zM74.43,4.14h8.27v4.14h-8.27zM90.97,4.14h12.41v4.14h-12.41zM111.65,4.14h8.27v4.14h-8.27zM124.05,4.14h4.14v4.14h-4.14zM148.86,4.14h4.14v4.14h-4.14zM0.00,8.27h4.14v4.14h-4.14zM8.27,8.27h12.41v4.14h-12.41zM24.81,8.27h4.14v4.14h-4.14zM33.08,8.27h4.14v4.14h-4.14zM41.35,8.27h8.27v4.14h-8.27zM57.89,8.27h4.14v4.14h-4.14zM66.16,8.27h8.27v4.14h-8.27zM78.57,8.27h16.54v4.14h-16.54zM99.24,8.27h4.14v4.14h-4.14zM107.51,8.27h8.27v4.14h-8.27zM124.05,8.27h4.14v4.14h-4.14zM132.32,8.27h12.41v4.14h-12.41zM148.86,8.27h4.14v4.14h-4.14zM0.00,12.41h4.14v4.14h-4.14zM8.27,12.41h12.41v4.14h-12.41zM24.81,12.41h4.14v4.14h-4.14zM33.08,12.41h8.27v4.14h-8.27zM45.49,12.41h4.14v4.14h-4.14zM53.76,12.41h4.14v4.14h-4.14zM66.16,12.41h8.27v4.14h-8.27zM78.57,12.41h8.27v4.14h-8.27zM99.24,12.41h4.14v4.14h-4.14zM107.51,12.41h12.41v4.14h-12.41zM124.05,12.41h4.14v4.14h-4.14zM132.32,12.41h12.41v4.14h-12.41zM148.86,12.41h4.14v4.14h-4.14zM0.00,16.54h4.14v4.14h-4.14zM8.27,16.54h12.41v4.14h-12.41zM24.81,16.54h4.14v4.14h-4.14zM41.35,16.54h4.14v4.14h-4.14zM49.62,16.54h4.14v4.14h-4.14zM57.89,16.54h4.14v4.14h-4.14zM66.16,16.54h4.14v4.14h-4.14zM99.24,16.54h4.14v4.14h-4.14zM115.78,16.54h4.14v4.14h-4.14zM124.05,16.54h4.14v4.14h-4.14zM132.32,16.54h12.41v4.14h-12.41zM148.86,16.54h4.14v4.14h-4.14zM0.00,20.68h4.14v4.14h-4.14zM24.81,20.68h4.14v4.14h-4.14zM37.22,20.68h4.14v4.14h-4.14zM45.49,20.68h4.14v4.14h-4.14zM53.76,20.68h8.27v4.14h-8.27zM66.16,20.68h4.14v4.14h-4.14zM78.57,20.68h12.41v4.14h-12.41zM95.11,20.68h8.27v4.14h-8.27zM111.65,20.68h4.14v4.14h-4.14zM124.05,20.68h4.14v4.14h-4.14zM148.86,20.68h4.14v4.14h-4.14zM0.00,24.81h28.95v4.14h-28.95zM33.08,24.81h24.81v4.14h-24.81zM62.03,24.81h8.27v4.14h-8.27zM78.57,24.81h12.41v4.14h-12.41zM95.11,24.81h4.14v4.14h-4.14zM107.51,24.81h4.14v4.14h-4.14zM115.78,24.81h4.14v4.14h-4.14zM124.05,24.81h28.95v4.14h-28.95zM33.08,28.95h12.41v4.14h-12.41zM49.62,28.95h12.41v4.14h-12.41zM78.57,28.95h4.14v4.14h-4.14zM90.97,28.95h4.14v4.14h-4.14zM103.38,28.95h8.27v4.14h-8.27zM16.54,33.08h4.14v4.14h-4.14zM41.35,33.08h4.14v4.14h-4.14zM53.76,33.08h12.41v4.14h-12.41zM74.43,33.08h8.27v4.14h-8.27zM86.84,33.08h4.14v4.14h-4.14zM95.11,33.08h8.27v4.14h-8.27zM107.51,33.08h8.27v4.14h-8.27zM136.46,33.08h4.14v4.14h-4.14zM144.73,33.08h8.27v4.14h-8.27zM4.14,37.22h4.14v4.14h-4.14zM28.95,37.22h8.27v4.14h-8.27zM45.49,37.22h4.14v4.14h-4.14zM66.16,37.22h4.14v4.14h-4.14zM82.70,37.22h4.14v4.14h-4.14zM95.11,37.22h4.14v4.14h-4.14zM107.51,37.22h4.14v4.14h-4.14zM115.78,37.22h4.14v4.14h-4.14zM124.05,37.22h4.14v4.14h-4.14zM136.46,37.22h16.54v4.14h-16.54zM8.27,41.35h12.41v4.14h-12.41zM28.95,41.35h4.14v4.14h-4.14zM37.22,41.35h12.41v4.14h-12.41zM53.76,41.35h8.27v4.14h-8.27zM66.16,41.35h4.14v4.14h-4.14zM74.43,41.35h4.14v4.14h-4.14zM82.70,41.35h8.27v4.14h-8.27zM95.11,41.35h12.41v4.14h-12.41zM111.65,41.35h8.27v4.14h-8.27zM144.73,41.35h4.14v4.14h-4.14zM8.27,45.49h8.27v4.14h-8.27zM20.68,45.49h4.14v4.14h-4.14zM33.08,45.49h8.27v4.14h-8.27zM45.49,45.49h8.27v4.14h-8.27zM57.89,45.49h4.14v4.14h-4.14zM66.16,45.49h8.27v4.14h-8.27zM78.57,45.49h8.27v4.14h-8.27zM99.24,45.49h4.14v4.14h-4.14zM119.92,45.49h16.54v4.14h-16.54zM148.86,45.49h4.14v4.14h-4.14zM0.00,49.62h8.27v4.14h-8.27zM20.68,49.62h8.27v4.14h-8.27zM33.08,49.62h4.14v4.14h-4.14zM41.35,49.62h8.27v4.14h-8.27zM53.76,49.62h4.14v4.14h-4.14zM62.03,49.62h4.14v4.14h-4.14zM74.43,49.62h8.27v4.14h-8.27zM86.84,49.62h12.41v4.14h-12.41zM103.38,49.62h4.14v4.14h-4.14zM128.19,49.62h4.14v4.14h-4.14zM148.86,49.62h4.14v4.14h-4.14zM16.54,53.76h4.14v4.14h-4.14zM41.35,53.76h4.14v4.14h-4.14zM49.62,53.76h20.68v4.14h-20.68zM78.57,53.76h4.14v4.14h-4.14zM90.97,53.76h4.14v4.14h-4.14zM107.51,53.76h4.14v4.14h-4.14zM132.32,53.76h4.14v4.14h-4.14zM144.73,53.76h8.27v4.14h-8.27zM0.00,57.89h20.68v4.14h-20.68zM53.76,57.89h4.14v4.14h-4.14zM66.16,57.89h4.14v4.14h-4.14zM74.43,57.89h16.54v4.14h-16.54zM95.11,57.89h4.14v4.14h-4.14zM103.38,57.89h4.14v4.14h-4.14zM115.78,57.89h8.27v4.14h-8.27zM132.32,57.89h4.14v4.14h-4.14zM140.59,57.89h12.41v4.14h-12.41zM0.00,62.03h8.27v4.14h-8.27zM12.41,62.03h4.14v4.14h-4.14zM24.81,62.03h4.14v4.14h-4.14zM37.22,62.03h4.14v4.14h-4.14zM45.49,62.03h8.27v4.14h-8.27zM57.89,62.03h4.14v4.14h-4.14zM74.43,62.03h4.14v4.14h-4.14zM90.97,62.03h4.14v4.14h-4.14zM99.24,62.03h12.41v4.14h-12.41zM115.78,62.03h8.27v4.14h-8.27zM128.19,62.03h8.27v4.14h-8.27zM140.59,62.03h4.14v4.14h-4.14zM12.41,66.16h8.27v4.14h-8.27zM33.08,66.16h8.27v4.14h-8.27zM62.03,66.16h8.27v4.14h-8.27zM82.70,66.16h16.54v4.14h-16.54zM103.38,66.16h4.14v4.14h-4.14zM111.65,66.16h8.27v4.14h-8.27zM132.32,66.16h16.54v4.14h-16.54zM4.14,70.30h8.27v4.14h-8.27zM24.81,70.30h12.41v4.14h-12.41zM41.35,70.30h4.14v4.14h-4.14zM53.76,70.30h4.14v4.14h-4.14zM70.30,70.30h12.41v4.14h-12.41zM86.84,70.30h8.27v4.14h-8.27zM99.24,70.30h4.14v4.14h-4.14zM107.51,70.30h4.14v4.14h-4.14zM115.78,70.30h8.27v4.14h-8.27zM128.19,70.30h8.27v4.14h-8.27zM144.73,70.30h8.27v4.14h-8.27zM0.00,74.43h4.14v4.14h-4.14zM8.27,74.43h8.27v4.14h-8.27zM37.22,74.43h4.14v4.14h-4.14zM45.49,74.43h12.41v4.14h-12.41zM66.16,74.43h28.95v4.14h-28.95zM115.78,74.43h4.14v4.14h-4.14zM128.19,74.43h8.27v4.14h-8.27zM8.27,78.57h4.14v4.14h-4.14zM20.68,78.57h8.27v4.14h-8.27zM37.22,78.57h4.14v4.14h-4.14zM45.49,78.57h4.14v4.14h-4.14zM57.89,78.57h8.27v4.14h-8.27zM78.57,78.57h8.27v4.14h-8.27zM95.11,78.57h4.14v4.14h-4.14zM115.78,78.57h4.14v4.14h-4.14zM12.41,82.70h12.41v4.14h-12.41zM33.08,82.70h20.68v4.14h-20.68zM57.89,82.70h12.41v4.14h-12.41zM78.57,82.70h12.41v4.14h-12.41zM99.24,82.70h20.68v4.14h-20.68zM128.19,82.70h16.54v4.14h-16.54zM148.86,82.70h4.14v4.14h-4.14zM8.27,86.84h8.27v4.14h-8.27zM24.81,86.84h4.14v4.14h-4.14zM37.22,86.84h12.41v4.14h-12.41zM57.89,86.84h4.14v4.14h-4.14zM70.30,86.84h4.14v4.14h-4.14zM82.70,86.84h16.54v4.14h-16.54zM111.65,86.84h16.54v4.14h-16.54zM144.73,86.84h4.14v4.14h-4.14zM0.00,90.97h4.14v4.14h-4.14zM8.27,90.97h4.14v4.14h-4.14zM24.81,90.97h8.27v4.14h-8.27zM37.22,90.97h12.41v4.14h-12.41zM62.03,90.97h4.14v4.14h-4.14zM70.30,90.97h4.14v4.14h-4.14zM78.57,90.97h4.14v4.14h-4.14zM86.84,90.97h4.14v4.14h-4.14zM99.24,90.97h4.14v4.14h-4.14zM107.51,90.97h20.68v4.14h-20.68zM132.32,90.97h4.14v4.14h-4.14zM140.59,90.97h12.41v4.14h-12.41zM12.41,95.11h8.27v4.14h-8.27zM24.81,95.11h4.14v4.14h-4.14zM33.08,95.11h8.27v4.14h-8.27zM49.62,95.11h4.14v4.14h-4.14zM57.89,95.11h8.27v4.14h-8.27zM70.30,95.11h12.41v4.14h-12.41zM86.84,95.11h8.27v4.14h-8.27zM99.24,95.11h4.14v4.14h-4.14zM115.78,95.11h4.14v4.14h-4.14zM124.05,95.11h12.41v4.14h-12.41zM144.73,95.11h8.27v4.14h-8.27zM8.27,99.24h24.81v4.14h-24.81zM37.22,99.24h4.14v4.14h-4.14zM57.89,99.24h20.68v4.14h-20.68zM99.24,99.24h12.41v4.14h-12.41zM115.78,99.24h8.27v4.14h-8.27zM140.59,99.24h4.14v4.14h-4.14zM4.14,103.38h4.14v4.14h-4.14zM12.41,103.38h4.14v4.14h-4.14zM37.22,103.38h4.14v4.14h-4.14zM49.62,103.38h12.41v4.14h-12.41zM70.30,103.38h4.14v4.14h-4.14zM78.57,103.38h12.41v4.14h-12.41zM95.11,103.38h4.14v4.14h-4.14zM115.78,103.38h4.14v4.14h-4.14zM136.46,103.38h4.14v4.14h-4.14zM144.73,103.38h4.14v4.14h-4.14zM0.00,107.51h4.14v4.14h-4.14zM12.41,107.51h4.14v4.14h-4.14zM20.68,107.51h12.41v4.14h-12.41zM45.49,107.51h4.14v4.14h-4.14zM57.89,107.51h4.14v4.14h-4.14zM70.30,107.51h20.68v4.14h-20.68zM95.11,107.51h4.14v4.14h-4.14zM103.38,107.51h4.14v4.14h-4.14zM111.65,107.51h4.14v4.14h-4.14zM119.92,107.51h4.14v4.14h-4.14zM128.19,107.51h4.14v4.14h-4.14zM140.59,107.51h8.27v4.14h-8.27zM12.41,111.65h4.14v4.14h-4.14zM28.95,111.65h8.27v4.14h-8.27zM53.76,111.65h4.14v4.14h-4.14zM62.03,111.65h8.27v4.14h-8.27zM90.97,111.65h4.14v4.14h-4.14zM99.24,111.65h12.41v4.14h-12.41zM115.78,111.65h8.27v4.14h-8.27zM132.32,111.65h20.68v4.14h-20.68zM16.54,115.78h4.14v4.14h-4.14zM24.81,115.78h4.14v4.14h-4.14zM41.35,115.78h4.14v4.14h-4.14zM49.62,115.78h4.14v4.14h-4.14zM62.03,115.78h20.68v4.14h-20.68zM90.97,115.78h8.27v4.14h-8.27zM103.38,115.78h8.27v4.14h-8.27zM115.78,115.78h8.27v4.14h-8.27zM132.32,115.78h12.41v4.14h-12.41zM37.22,119.92h4.14v4.14h-4.14zM45.49,119.92h8.27v4.14h-8.27zM57.89,119.92h4.14v4.14h-4.14zM74.43,119.92h4.14v4.14h-4.14zM86.84,119.92h16.54v4.14h-16.54zM107.51,119.92h12.41v4.14h-12.41zM128.19,119.92h4.14v4.14h-4.14zM144.73,119.92h8.27v4.14h-8.27zM0.00,124.05h28.95v4.14h-28.95zM37.22,124.05h4.14v4.14h-4.14zM45.49,124.05h8.27v4.14h-8.27zM57.89,124.05h8.27v4.14h-8.27zM70.30,124.05h8.27v4.14h-8.27zM82.70,124.05h4.14v4.14h-4.14zM95.11,124.05h8.27v4.14h-8.27zM107.51,124.05h4.14v4.14h-4.14zM115.78,124.05h8.27v4.14h-8.27zM132.32,124.05h4.14v4.14h-4.14zM0.00,128.19h4.14v4.14h-4.14zM24.81,128.19h4.14v4.14h-4.14zM33.08,128.19h8.27v4.14h-8.27zM53.76,128.19h12.41v4.14h-12.41zM70.30,128.19h8.27v4.14h-8.27zM95.11,128.19h28.95v4.14h-28.95zM128.19,128.19h4.14v4.14h-4.14zM148.86,128.19h4.14v4.14h-4.14zM0.00,132.32h4.14v4.14h-4.14zM8.27,132.32h12.41v4.14h-12.41zM24.81,132.32h4.14v4.14h-4.14zM33.08,132.32h4.14v4.14h-4.14zM41.35,132.32h12.41v4.14h-12.41zM66.16,132.32h16.54v4.14h-16.54zM86.84,132.32h8.27v4.14h-8.27zM103.38,132.32h8.27v4.14h-8.27zM115.78,132.32h8.27v4.14h-8.27zM128.19,132.32h24.81v4.14h-24.81zM0.00,136.46h4.14v4.14h-4.14zM8.27,136.46h12.41v4.14h-12.41zM24.81,136.46h4.14v4.14h-4.14zM37.22,136.46h8.27v4.14h-8.27zM53.76,136.46h8.27v4.14h-8.27zM66.16,136.46h8.27v4.14h-8.27zM90.97,136.46h8.27v4.14h-8.27zM103.38,136.46h4.14v4.14h-4.14zM111.65,136.46h12.41v4.14h-12.41zM128.19,136.46h24.81v4.14h-24.81zM0.00,140.59h4.14v4.14h-4.14zM8.27,140.59h12.41v4.14h-12.41zM24.81,140.59h4.14v4.14h-4.14zM33.08,140.59h20.68v4.14h-20.68zM62.03,140.59h12.41v4.14h-12.41zM78.57,140.59h4.14v4.14h-4.14zM95.11,140.59h16.54v4.14h-16.54zM115.78,140.59h4.14v4.14h-4.14zM128.19,140.59h20.68v4.14h-20.68zM0.00,144.73h4.14v4.14h-4.14zM24.81,144.73h4.14v4.14h-4.14zM37.22,144.73h12.41v4.14h-12.41zM53.76,144.73h8.27v4.14h-8.27zM66.16,144.73h24.81v4.14h-24.81zM107.51,144.73h4.14v4.14h-4.14zM119.92,144.73h4.14v4.14h-4.14zM140.59,144.73h4.14v4.14h-4.14zM148.86,144.73h4.14v4.14h-4.14zM0.00,148.86h28.95v4.14h-28.95zM33.08,148.86h12.41v4.14h-12.41zM49.62,148.86h20.68v4.14h-20.68zM86.84,148.86h28.95v4.14h-28.95zM119.92,148.86h20.68v4.14h-20.68zM148.86,148.86h4.14v4.14h-4.14z" fill="#0a0a0a"/><rect x="55.5" y="55.5" width="42" height="42" fill="#fff"/><rect x="57.5" y="57.5" width="38" height="38" rx="5" fill="#d7161b"/><text x="76.5" y="73.5" font-size="7.5" fill="#fff" text-anchor="middle" font-family="Liberation Serif, serif">中央纪委</text><text x="76.5" y="83.5" font-size="7.5" fill="#fff" text-anchor="middle" font-family="Liberation Serif, serif">国家监委</text></svg><div class="qrl" style="left:169px;width:153px">客户端</div><div class="qrl" style="left:604.7px;width:153px">微信公众号</div><div class="logo"><div class="gloss"></div><div class="lgin"></div><div class="lgt1">中央纪委</div><div class="lgline"></div><div class="lgt2">国家监委</div><div class="lgt3">网站</div></div><div class="made">中央纪委国家监委网站&nbsp;&nbsp;制作</div>
<svg class="ov" width="928" height="5008" viewBox="0 0 928 5008"><path d="M66,88 V4571 Q66,4582 77,4582 H853 Q864,4582 864,4571 V88" fill="none" stroke="#17294a" stroke-width="2" stroke-dasharray="9 3"/></svg>
</body></html>
